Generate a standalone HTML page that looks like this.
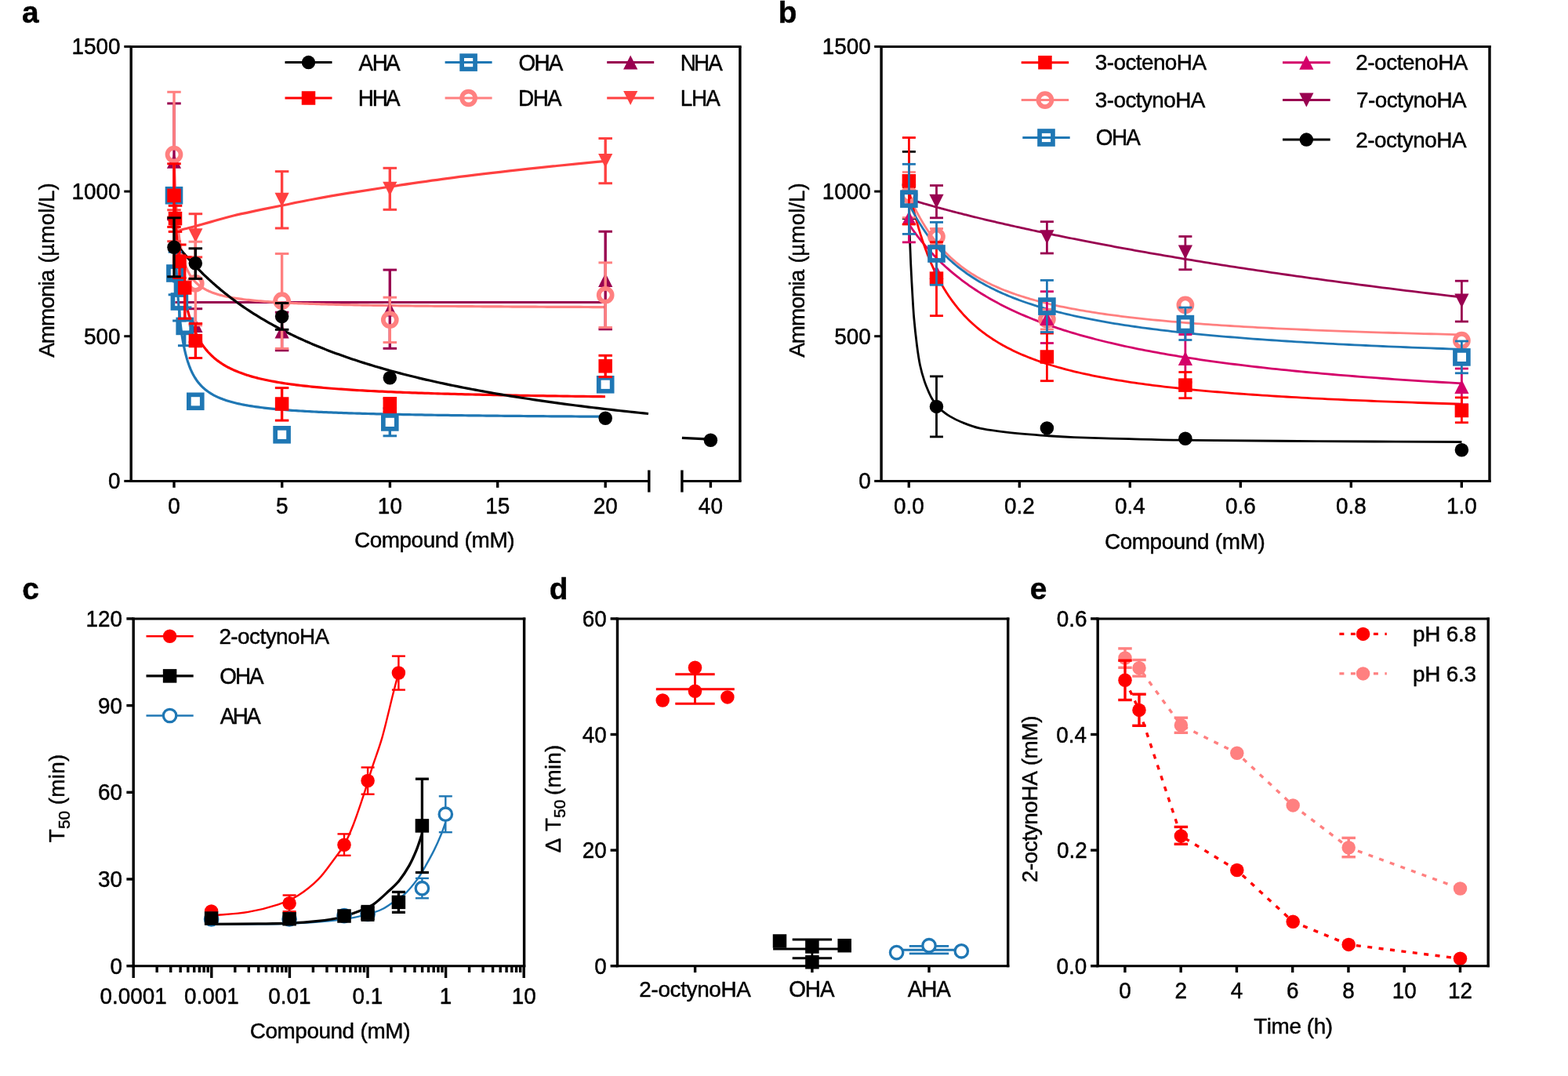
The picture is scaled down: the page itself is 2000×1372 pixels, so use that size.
<!DOCTYPE html>
<html lang="en"><head><meta charset="utf-8"><title>Figure</title>
<style>html,body{margin:0;padding:0;background:#fff;}svg{display:block;}text{font-family:'Liberation Sans', Arial, Helvetica, sans-serif;fill:#000;font-kerning:none;white-space:pre;stroke:#000;stroke-width:0.45px;stroke-linejoin:round;}</style>
</head><body>
<svg xmlns="http://www.w3.org/2000/svg" width="2000" height="1372" viewBox="0 0 2000 1372">
<rect x="0" y="0" width="2000" height="1372" fill="#ffffff"/>
<g id="panel-a">
<text x="28.06" y="28.7" font-size="38.8" font-weight="bold">a</text>
<line x1="165.5" y1="59.4" x2="945.6" y2="59.4" stroke="#000000" stroke-width="3"/>
<line x1="165.5" y1="613.4" x2="827.8" y2="613.4" stroke="#000000" stroke-width="3"/>
<line x1="869.9" y1="613.4" x2="945.6" y2="613.4" stroke="#000000" stroke-width="3"/>
<line x1="167.2" y1="59.4" x2="167.2" y2="613.4" stroke="#000000" stroke-width="3.4"/>
<line x1="943.9" y1="59.4" x2="943.9" y2="613.4" stroke="#000000" stroke-width="3.4"/>
<line x1="827.8" y1="599.5" x2="827.8" y2="627.6" stroke="#000000" stroke-width="3.4"/>
<line x1="869.9" y1="599.5" x2="869.9" y2="627.6" stroke="#000000" stroke-width="3.4"/>
<line x1="158.3" y1="59.4" x2="167.2" y2="59.4" stroke="#000000" stroke-width="3"/>
<text x="91.52" y="69.4" font-size="27.9" transform="matrix(1 0 0 1.041 0 -2.85)">1500</text>
<line x1="158.3" y1="244.07" x2="167.2" y2="244.07" stroke="#000000" stroke-width="3"/>
<text x="91.52" y="254.07" font-size="27.9" transform="matrix(1 0 0 1.041 0 -10.42)">1000</text>
<line x1="158.3" y1="428.73" x2="167.2" y2="428.73" stroke="#000000" stroke-width="3"/>
<text x="107.04" y="438.73" font-size="27.9" transform="matrix(1 0 0 1.041 0 -17.99)">500</text>
<line x1="158.3" y1="613.4" x2="167.2" y2="613.4" stroke="#000000" stroke-width="3"/>
<text x="138.07" y="623.4" font-size="27.9" transform="matrix(1 0 0 1.041 0 -25.56)">0</text>
<line x1="222" y1="613.4" x2="222" y2="621.8" stroke="#000000" stroke-width="3.4"/>
<text x="214.24" y="654.8" font-size="27.9" transform="matrix(1 0 0 1.041 0 -26.85)">0</text>
<line x1="359.7" y1="613.4" x2="359.7" y2="621.8" stroke="#000000" stroke-width="3.4"/>
<text x="351.94" y="654.8" font-size="27.9" transform="matrix(1 0 0 1.041 0 -26.85)">5</text>
<line x1="497.4" y1="613.4" x2="497.4" y2="621.8" stroke="#000000" stroke-width="3.4"/>
<text x="481.88" y="654.8" font-size="27.9" transform="matrix(1 0 0 1.041 0 -26.85)">10</text>
<line x1="634.7" y1="613.4" x2="634.7" y2="621.8" stroke="#000000" stroke-width="3.4"/>
<text x="619.18" y="654.8" font-size="27.9" transform="matrix(1 0 0 1.041 0 -26.85)">15</text>
<line x1="772.2" y1="613.4" x2="772.2" y2="621.8" stroke="#000000" stroke-width="3.4"/>
<text x="756.68" y="654.8" font-size="27.9" transform="matrix(1 0 0 1.041 0 -26.85)">20</text>
<line x1="906.4" y1="613.4" x2="906.4" y2="621.8" stroke="#000000" stroke-width="3.4"/>
<text x="890.88" y="654.8" font-size="27.9" transform="matrix(1 0 0 1.041 0 -26.85)">40</text>
<text font-size="27.9"><tspan x="451.98" y="698" letter-spacing="-0.45">Compound </tspan><tspan x="592.57" y="698" letter-spacing="-0.35">(mM)</tspan></text>
<text font-size="27.9" transform="translate(69.3 456) rotate(-90)"><tspan x="0.15" y="0" letter-spacing="-0.93">Ammonia </tspan><tspan x="120.57" y="0" letter-spacing="-0.6">(µ</tspan><tspan x="145.55" y="0" letter-spacing="-0.07">mol/L)</tspan></text>
<path d="M222 295.6 C224.17 295 230.33 293.23 235 292 C239.67 290.77 244.17 289.77 250 288.2 C255.83 286.63 262.03 284.8 270 282.6 C277.97 280.4 288.13 277.37 297.8 275 C307.47 272.63 317.7 270.57 328 268.4 C338.3 266.23 347.6 264.4 359.6 262 C371.6 259.6 385.77 256.63 400 254 C414.23 251.37 428.77 248.87 445 246.2 C461.23 243.53 476.57 241.1 497.4 238 C518.23 234.9 544.57 230.95 570 227.6 C595.43 224.25 626.67 220.58 650 217.9 C673.33 215.22 689.63 213.58 710 211.5 C730.37 209.42 761.83 206.42 772.2 205.4" fill="none" stroke="#FF4040" stroke-width="3.2" stroke-linejoin="round"/>
<path d="M223.4 385.6 L772.2 385.6" fill="none" stroke="#990050" stroke-width="3" stroke-linejoin="round"/>
<path d="M222 197.44 L222 197.57 L222.02 198.05 L222.04 198.92 L222.08 200.2 L222.13 201.91 L222.2 204.04 L222.28 206.58 L222.37 209.51 L222.49 212.79 L222.61 216.41 L222.76 220.32 L222.91 224.48 L223.09 228.86 L223.28 233.4 L223.49 238.07 L223.72 242.84 L223.97 247.66 L224.23 252.5 L224.51 257.33 L224.81 262.12 L225.13 266.86 L225.47 271.51 L225.83 276.07 L226.2 280.52 L226.6 284.85 L227.01 289.05 L227.45 293.11 L227.9 297.03 L228.37 300.82 L228.87 304.45 L229.38 307.95 L229.91 311.3 L230.47 314.52 L231.04 317.6 L231.64 320.54 L232.25 323.36 L232.89 326.06 L233.55 328.63 L234.23 331.09 L234.93 333.44 L235.65 335.68 L236.39 337.82 L237.16 339.86 L237.95 341.81 L238.75 343.68 L239.58 345.46 L240.44 347.15 L241.31 348.78 L242.21 350.33 L243.12 351.81 L244.06 353.22 L245.03 354.57 L246.01 355.87 L247.02 357.1 L248.05 358.29 L249.1 359.42 L250.18 360.51 L251.28 361.55 L252.4 362.54 L253.55 363.5 L254.72 364.41 L255.91 365.29 L257.12 366.13 L258.36 366.94 L259.62 367.72 L260.91 368.46 L262.22 369.18 L263.55 369.87 L264.9 370.53 L266.28 371.17 L267.69 371.78 L269.12 372.37 L270.57 372.94 L272.04 373.48 L273.54 374.01 L275.07 374.52 L276.62 375.01 L278.19 375.48 L279.78 375.94 L281.41 376.38 L283.05 376.8 L284.72 377.21 L286.42 377.61 L288.14 377.99 L289.88 378.36 L291.65 378.72 L293.45 379.06 L295.26 379.4 L297.11 379.72 L298.98 380.04 L300.87 380.34 L302.79 380.64 L304.74 380.92 L306.71 381.2 L308.7 381.46 L310.72 381.72 L312.77 381.98 L314.84 382.22 L316.94 382.46 L319.06 382.69 L321.21 382.91 L323.38 383.13 L325.58 383.34 L327.8 383.54 L330.06 383.74 L332.33 383.94 L334.64 384.13 L336.96 384.31 L339.32 384.49 L341.7 384.66 L344.11 384.83 L346.54 384.99 L349 385.15 L351.49 385.31 L354 385.46 L356.54 385.61 L359.1 385.75 L361.69 385.89 L364.31 386.03 L366.95 386.16 L369.63 386.29 L372.32 386.41 L375.05 386.54 L377.8 386.66 L380.58 386.78 L383.38 386.89 L386.21 387 L389.07 387.11 L391.95 387.22 L394.87 387.32 L397.8 387.42 L400.77 387.52 L403.76 387.62 L406.78 387.72 L409.83 387.81 L412.91 387.9 L416.01 387.99 L419.14 388.07 L422.29 388.16 L425.48 388.24 L428.69 388.32 L431.93 388.4 L435.19 388.48 L438.49 388.56 L441.81 388.63 L445.16 388.7 L448.53 388.77 L451.94 388.84 L455.37 388.91 L458.83 388.98 L462.32 389.05 L465.83 389.11 L469.37 389.17 L472.94 389.23 L476.54 389.29 L480.17 389.35 L483.83 389.41 L487.51 389.47 L491.22 389.52 L494.96 389.58 L498.73 389.63 L502.52 389.69 L506.34 389.74 L510.2 389.79 L514.08 389.84 L517.99 389.89 L521.92 389.93 L525.89 389.98 L529.88 390.03 L533.9 390.07 L537.95 390.12 L542.03 390.16 L546.14 390.2 L550.28 390.25 L554.44 390.29 L558.64 390.33 L562.86 390.37 L567.11 390.41 L571.39 390.45 L575.7 390.48 L580.04 390.52 L584.4 390.56 L588.8 390.59 L593.22 390.63 L597.67 390.66 L602.16 390.7 L606.67 390.73 L611.21 390.76 L615.78 390.8 L620.37 390.83 L625 390.86 L629.66 390.89 L634.34 390.92 L639.06 390.95 L643.8 390.98 L648.58 391.01 L653.38 391.04 L658.21 391.07 L663.07 391.09 L667.96 391.12 L672.88 391.15 L677.83 391.17 L682.81 391.2 L687.82 391.23 L692.86 391.25 L697.93 391.28 L703.02 391.3 L708.15 391.32 L713.31 391.35 L718.5 391.37 L723.71 391.39 L728.96 391.42 L734.23 391.44 L739.54 391.46 L744.87 391.48 L750.24 391.5 L755.63 391.53 L761.06 391.55 L766.51 391.57 L772 391.59" fill="none" stroke="#FF8080" stroke-width="3.2" stroke-linejoin="round"/>
<path d="M222 248.93 L222 249.11 L222.02 249.77 L222.04 250.96 L222.08 252.73 L222.13 255.08 L222.2 258.02 L222.28 261.53 L222.37 265.58 L222.49 270.14 L222.61 275.17 L222.76 280.61 L222.91 286.41 L223.09 292.53 L223.28 298.89 L223.49 305.46 L223.72 312.17 L223.97 318.98 L224.23 325.84 L224.51 332.7 L224.81 339.53 L225.13 346.3 L225.47 352.96 L225.83 359.51 L226.2 365.91 L226.6 372.16 L227.01 378.23 L227.45 384.13 L227.9 389.83 L228.37 395.34 L228.87 400.65 L229.38 405.76 L229.91 410.67 L230.47 415.39 L231.04 419.92 L231.64 424.27 L232.25 428.43 L232.89 432.41 L233.55 436.22 L234.23 439.87 L234.93 443.35 L235.65 446.69 L236.39 449.87 L237.16 452.92 L237.95 455.83 L238.75 458.61 L239.58 461.27 L240.44 463.81 L241.31 466.24 L242.21 468.57 L243.12 470.79 L244.06 472.91 L245.03 474.95 L246.01 476.89 L247.02 478.76 L248.05 480.54 L249.1 482.25 L250.18 483.89 L251.28 485.46 L252.4 486.96 L253.55 488.4 L254.72 489.79 L255.91 491.12 L257.12 492.39 L258.36 493.62 L259.62 494.79 L260.91 495.92 L262.22 497.01 L263.55 498.05 L264.9 499.06 L266.28 500.03 L267.69 500.96 L269.12 501.85 L270.57 502.72 L272.04 503.55 L273.54 504.35 L275.07 505.12 L276.62 505.87 L278.19 506.59 L279.78 507.28 L281.41 507.95 L283.05 508.6 L284.72 509.22 L286.42 509.83 L288.14 510.41 L289.88 510.97 L291.65 511.52 L293.45 512.05 L295.26 512.56 L297.11 513.05 L298.98 513.53 L300.87 514 L302.79 514.45 L304.74 514.88 L306.71 515.3 L308.7 515.71 L310.72 516.11 L312.77 516.5 L314.84 516.87 L316.94 517.23 L319.06 517.58 L321.21 517.92 L323.38 518.26 L325.58 518.58 L327.8 518.89 L330.06 519.2 L332.33 519.49 L334.64 519.78 L336.96 520.06 L339.32 520.33 L341.7 520.6 L344.11 520.86 L346.54 521.11 L349 521.35 L351.49 521.59 L354 521.82 L356.54 522.05 L359.1 522.27 L361.69 522.48 L364.31 522.69 L366.95 522.89 L369.63 523.09 L372.32 523.29 L375.05 523.48 L377.8 523.66 L380.58 523.84 L383.38 524.02 L386.21 524.19 L389.07 524.36 L391.95 524.52 L394.87 524.68 L397.8 524.83 L400.77 524.99 L403.76 525.14 L406.78 525.28 L409.83 525.42 L412.91 525.56 L416.01 525.7 L419.14 525.83 L422.29 525.96 L425.48 526.09 L428.69 526.21 L431.93 526.33 L435.19 526.45 L438.49 526.57 L441.81 526.68 L445.16 526.8 L448.53 526.91 L451.94 527.01 L455.37 527.12 L458.83 527.22 L462.32 527.32 L465.83 527.42 L469.37 527.52 L472.94 527.61 L476.54 527.7 L480.17 527.79 L483.83 527.88 L487.51 527.97 L491.22 528.06 L494.96 528.14 L498.73 528.22 L502.52 528.3 L506.34 528.38 L510.2 528.46 L514.08 528.54 L517.99 528.61 L521.92 528.69 L525.89 528.76 L529.88 528.83 L533.9 528.9 L537.95 528.97 L542.03 529.03 L546.14 529.1 L550.28 529.16 L554.44 529.23 L558.64 529.29 L562.86 529.35 L567.11 529.41 L571.39 529.47 L575.7 529.53 L580.04 529.59 L584.4 529.64 L588.8 529.7 L593.22 529.75 L597.67 529.81 L602.16 529.86 L606.67 529.91 L611.21 529.96 L615.78 530.01 L620.37 530.06 L625 530.11 L629.66 530.16 L634.34 530.2 L639.06 530.25 L643.8 530.29 L648.58 530.34 L653.38 530.38 L658.21 530.43 L663.07 530.47 L667.96 530.51 L672.88 530.55 L677.83 530.59 L682.81 530.63 L687.82 530.67 L692.86 530.71 L697.93 530.75 L703.02 530.78 L708.15 530.82 L713.31 530.86 L718.5 530.89 L723.71 530.93 L728.96 530.96 L734.23 531 L739.54 531.03 L744.87 531.06 L750.24 531.1 L755.63 531.13 L761.06 531.16 L766.51 531.19 L772 531.22" fill="none" stroke="#1F77B4" stroke-width="3.2" stroke-linejoin="round"/>
<path d="M222 248.93 L222 249.01 L222.02 249.27 L222.04 249.76 L222.08 250.48 L222.13 251.45 L222.2 252.68 L222.28 254.17 L222.37 255.91 L222.49 257.9 L222.61 260.14 L222.76 262.61 L222.91 265.32 L223.09 268.25 L223.28 271.37 L223.49 274.69 L223.72 278.19 L223.97 281.84 L224.23 285.63 L224.51 289.55 L224.81 293.58 L225.13 297.7 L225.47 301.9 L225.83 306.16 L226.2 310.47 L226.6 314.8 L227.01 319.15 L227.45 323.51 L227.9 327.86 L228.37 332.19 L228.87 336.5 L229.38 340.76 L229.91 344.98 L230.47 349.15 L231.04 353.25 L231.64 357.3 L232.25 361.27 L232.89 365.17 L233.55 368.99 L234.23 372.73 L234.93 376.39 L235.65 379.96 L236.39 383.45 L237.16 386.85 L237.95 390.17 L238.75 393.4 L239.58 396.54 L240.44 399.6 L241.31 402.58 L242.21 405.47 L243.12 408.28 L244.06 411 L245.03 413.65 L246.01 416.22 L247.02 418.72 L248.05 421.13 L249.1 423.48 L250.18 425.76 L251.28 427.96 L252.4 430.1 L253.55 432.18 L254.72 434.19 L255.91 436.14 L257.12 438.03 L258.36 439.86 L259.62 441.64 L260.91 443.36 L262.22 445.03 L263.55 446.64 L264.9 448.21 L266.28 449.73 L267.69 451.21 L269.12 452.64 L270.57 454.02 L272.04 455.37 L273.54 456.68 L275.07 457.94 L276.62 459.17 L278.19 460.36 L279.78 461.52 L281.41 462.64 L283.05 463.73 L284.72 464.79 L286.42 465.82 L288.14 466.82 L289.88 467.79 L291.65 468.73 L293.45 469.64 L295.26 470.53 L297.11 471.4 L298.98 472.24 L300.87 473.06 L302.79 473.85 L304.74 474.62 L306.71 475.37 L308.7 476.11 L310.72 476.82 L312.77 477.51 L314.84 478.18 L316.94 478.84 L319.06 479.48 L321.21 480.1 L323.38 480.71 L325.58 481.3 L327.8 481.87 L330.06 482.43 L332.33 482.98 L334.64 483.51 L336.96 484.03 L339.32 484.54 L341.7 485.03 L344.11 485.51 L346.54 485.98 L349 486.44 L351.49 486.89 L354 487.32 L356.54 487.75 L359.1 488.16 L361.69 488.57 L364.31 488.97 L366.95 489.35 L369.63 489.73 L372.32 490.1 L375.05 490.46 L377.8 490.82 L380.58 491.16 L383.38 491.5 L386.21 491.83 L389.07 492.15 L391.95 492.46 L394.87 492.77 L397.8 493.07 L400.77 493.37 L403.76 493.66 L406.78 493.94 L409.83 494.21 L412.91 494.48 L416.01 494.75 L419.14 495.01 L422.29 495.26 L425.48 495.51 L428.69 495.75 L431.93 495.99 L435.19 496.22 L438.49 496.45 L441.81 496.68 L445.16 496.9 L448.53 497.11 L451.94 497.32 L455.37 497.53 L458.83 497.73 L462.32 497.93 L465.83 498.12 L469.37 498.32 L472.94 498.5 L476.54 498.69 L480.17 498.87 L483.83 499.04 L487.51 499.22 L491.22 499.39 L494.96 499.56 L498.73 499.72 L502.52 499.88 L506.34 500.04 L510.2 500.19 L514.08 500.35 L517.99 500.5 L521.92 500.64 L525.89 500.79 L529.88 500.93 L533.9 501.07 L537.95 501.2 L542.03 501.34 L546.14 501.47 L550.28 501.6 L554.44 501.73 L558.64 501.85 L562.86 501.98 L567.11 502.1 L571.39 502.22 L575.7 502.33 L580.04 502.45 L584.4 502.56 L588.8 502.67 L593.22 502.78 L597.67 502.89 L602.16 503 L606.67 503.1 L611.21 503.2 L615.78 503.31 L620.37 503.4 L625 503.5 L629.66 503.6 L634.34 503.69 L639.06 503.79 L643.8 503.88 L648.58 503.97 L653.38 504.06 L658.21 504.14 L663.07 504.23 L667.96 504.32 L672.88 504.4 L677.83 504.48 L682.81 504.56 L687.82 504.64 L692.86 504.72 L697.93 504.8 L703.02 504.87 L708.15 504.95 L713.31 505.02 L718.5 505.1 L723.71 505.17 L728.96 505.24 L734.23 505.31 L739.54 505.38 L744.87 505.45 L750.24 505.51 L755.63 505.58 L761.06 505.64 L766.51 505.71 L772 505.77" fill="none" stroke="#FF0000" stroke-width="3.2" stroke-linejoin="round"/>
<path d="M222 307.56 L222 307.57 L222.02 307.59 L222.05 307.62 L222.09 307.68 L222.15 307.75 L222.22 307.85 L222.31 307.96 L222.41 308.1 L222.53 308.26 L222.67 308.44 L222.83 308.64 L223.01 308.87 L223.2 309.12 L223.41 309.39 L223.64 309.69 L223.89 310.01 L224.16 310.36 L224.45 310.73 L224.76 311.13 L225.1 311.55 L225.45 311.99 L225.82 312.46 L226.21 312.95 L226.62 313.47 L227.06 314.02 L227.51 314.59 L227.99 315.18 L228.49 315.8 L229.01 316.44 L229.55 317.1 L230.12 317.79 L230.7 318.51 L231.31 319.25 L231.95 320.01 L232.6 320.79 L233.28 321.6 L233.98 322.43 L234.7 323.28 L235.45 324.15 L236.22 325.05 L237.02 325.97 L237.83 326.91 L238.67 327.86 L239.54 328.84 L240.43 329.84 L241.34 330.86 L242.28 331.9 L243.24 332.96 L244.23 334.04 L245.24 335.13 L246.27 336.24 L247.33 337.37 L248.41 338.52 L249.52 339.68 L250.66 340.86 L251.82 342.06 L253 343.27 L254.21 344.49 L255.44 345.73 L256.7 346.98 L257.99 348.24 L259.3 349.52 L260.63 350.81 L262 352.11 L263.38 353.43 L264.8 354.75 L266.24 356.09 L267.7 357.43 L269.19 358.79 L270.71 360.15 L272.26 361.52 L273.83 362.9 L275.42 364.29 L277.05 365.68 L278.7 367.09 L280.37 368.49 L282.08 369.91 L283.81 371.33 L285.56 372.75 L287.35 374.18 L289.16 375.62 L290.99 377.06 L292.86 378.5 L294.75 379.94 L296.67 381.39 L298.62 382.84 L300.59 384.29 L302.59 385.74 L304.62 387.2 L306.68 388.65 L308.76 390.11 L310.87 391.56 L313.01 393.02 L315.18 394.47 L317.37 395.92 L319.59 397.38 L321.84 398.83 L324.12 400.28 L326.43 401.73 L328.76 403.17 L331.13 404.61 L333.52 406.05 L335.94 407.49 L338.39 408.92 L340.86 410.35 L343.37 411.78 L345.9 413.2 L348.46 414.62 L351.05 416.03 L353.67 417.44 L356.32 418.84 L359 420.24 L361.7 421.63 L364.43 423.02 L367.2 424.4 L369.99 425.78 L372.81 427.15 L375.66 428.51 L378.54 429.87 L381.45 431.22 L384.39 432.56 L387.35 433.9 L390.35 435.23 L393.38 436.56 L396.43 437.87 L399.52 439.18 L402.63 440.49 L405.78 441.78 L408.95 443.07 L412.15 444.35 L415.38 445.62 L418.65 446.89 L421.94 448.14 L425.26 449.39 L428.61 450.63 L432 451.87 L435.41 453.09 L438.85 454.31 L442.32 455.52 L445.82 456.72 L449.36 457.92 L452.92 459.1 L456.51 460.28 L460.13 461.45 L463.79 462.61 L467.47 463.76 L471.19 464.9 L474.93 466.04 L478.71 467.17 L482.51 468.29 L486.35 469.4 L490.21 470.5 L494.11 471.59 L498.04 472.68 L502 473.76 L505.99 474.82 L510.01 475.89 L514.06 476.94 L518.14 477.98 L522.25 479.02 L526.4 480.05 L530.57 481.07 L534.78 482.08 L539.02 483.08 L543.28 484.08 L547.58 485.06 L551.91 486.04 L556.28 487.01 L560.67 487.98 L565.09 488.93 L569.55 489.88 L574.04 490.82 L578.56 491.75 L583.11 492.67 L587.69 493.59 L592.3 494.5 L596.94 495.4 L601.62 496.29 L606.33 497.18 L611.07 498.05 L615.84 498.92 L620.64 499.79 L625.48 500.64 L630.34 501.49 L635.24 502.33 L640.17 503.16 L645.13 503.99 L650.13 504.81 L655.15 505.62 L660.21 506.42 L665.3 507.22 L670.42 508.01 L675.58 508.79 L680.76 509.57 L685.98 510.34 L691.23 511.1 L696.52 511.86 L701.83 512.61 L707.18 513.35 L712.56 514.09 L717.97 514.82 L723.42 515.54 L728.89 516.26 L734.4 516.97 L739.95 517.67 L745.52 518.37 L751.13 519.06 L756.77 519.75 L762.44 520.43 L768.14 521.1 L773.88 521.77 L779.65 522.43 L785.46 523.09 L791.29 523.74 L797.16 524.38 L803.06 525.02 L809 525.65 L814.97 526.28 L820.97 526.9 L827 527.52" fill="none" stroke="#000000" stroke-width="3.2" stroke-linejoin="round"/>
<path d="M869.9 558.3 L906.4 560.2" fill="none" stroke="#000000" stroke-width="3.2" stroke-linejoin="round"/>
<line x1="222" y1="267.8" x2="222" y2="307.7" stroke="#FF4040" stroke-width="3.4"/>
<line x1="213.25" y1="267.8" x2="230.75" y2="267.8" stroke="#FF4040" stroke-width="3"/>
<line x1="213.25" y1="307.7" x2="230.75" y2="307.7" stroke="#FF4040" stroke-width="3"/>
<line x1="249.4" y1="272.7" x2="249.4" y2="327.9" stroke="#FF4040" stroke-width="3.4"/>
<line x1="240.65" y1="272.7" x2="258.15" y2="272.7" stroke="#FF4040" stroke-width="3"/>
<line x1="240.65" y1="327.9" x2="258.15" y2="327.9" stroke="#FF4040" stroke-width="3"/>
<line x1="359.6" y1="218.6" x2="359.6" y2="291" stroke="#FF4040" stroke-width="3.4"/>
<line x1="350.85" y1="218.6" x2="368.35" y2="218.6" stroke="#FF4040" stroke-width="3"/>
<line x1="350.85" y1="291" x2="368.35" y2="291" stroke="#FF4040" stroke-width="3"/>
<line x1="497.3" y1="214.3" x2="497.3" y2="267.3" stroke="#FF4040" stroke-width="3.4"/>
<line x1="488.55" y1="214.3" x2="506.05" y2="214.3" stroke="#FF4040" stroke-width="3"/>
<line x1="488.55" y1="267.3" x2="506.05" y2="267.3" stroke="#FF4040" stroke-width="3"/>
<line x1="772.2" y1="176.5" x2="772.2" y2="233.7" stroke="#FF4040" stroke-width="3.4"/>
<line x1="763.45" y1="176.5" x2="780.95" y2="176.5" stroke="#FF4040" stroke-width="3"/>
<line x1="763.45" y1="233.7" x2="780.95" y2="233.7" stroke="#FF4040" stroke-width="3"/>
<path d="M222 296.75 L231.1 278.75 L212.9 278.75 Z" fill="#FF4040"/>
<path d="M249.4 309.3 L258.5 291.3 L240.3 291.3 Z" fill="#FF4040"/>
<path d="M359.6 263.8 L368.7 245.8 L350.5 245.8 Z" fill="#FF4040"/>
<path d="M497.3 249.8 L506.4 231.8 L488.2 231.8 Z" fill="#FF4040"/>
<path d="M772.2 214.1 L781.3 196.1 L763.1 196.1 Z" fill="#FF4040"/>
<line x1="222" y1="131.9" x2="222" y2="279.7" stroke="#990050" stroke-width="3.4"/>
<line x1="213.25" y1="131.9" x2="230.75" y2="131.9" stroke="#990050" stroke-width="3"/>
<line x1="213.25" y1="279.7" x2="230.75" y2="279.7" stroke="#990050" stroke-width="3"/>
<line x1="249.4" y1="393.7" x2="249.4" y2="436.3" stroke="#990050" stroke-width="3.4"/>
<line x1="240.65" y1="393.7" x2="258.15" y2="393.7" stroke="#990050" stroke-width="3"/>
<line x1="240.65" y1="436.3" x2="258.15" y2="436.3" stroke="#990050" stroke-width="3"/>
<line x1="359.6" y1="398.2" x2="359.6" y2="446.8" stroke="#990050" stroke-width="3.4"/>
<line x1="350.85" y1="398.2" x2="368.35" y2="398.2" stroke="#990050" stroke-width="3"/>
<line x1="350.85" y1="446.8" x2="368.35" y2="446.8" stroke="#990050" stroke-width="3"/>
<line x1="497.3" y1="344.1" x2="497.3" y2="444.3" stroke="#990050" stroke-width="3.4"/>
<line x1="488.55" y1="344.1" x2="506.05" y2="344.1" stroke="#990050" stroke-width="3"/>
<line x1="488.55" y1="444.3" x2="506.05" y2="444.3" stroke="#990050" stroke-width="3"/>
<line x1="772.2" y1="295.2" x2="772.2" y2="419.8" stroke="#990050" stroke-width="3.4"/>
<line x1="763.45" y1="295.2" x2="780.95" y2="295.2" stroke="#990050" stroke-width="3"/>
<line x1="763.45" y1="419.8" x2="780.95" y2="419.8" stroke="#990050" stroke-width="3"/>
<path d="M222 196.8 L231.1 214.8 L212.9 214.8 Z" fill="#990050"/>
<path d="M249.4 406 L258.5 424 L240.3 424 Z" fill="#990050"/>
<path d="M359.6 413.5 L368.7 431.5 L350.5 431.5 Z" fill="#990050"/>
<path d="M497.3 385.5 L506.4 403.5 L488.2 403.5 Z" fill="#990050"/>
<path d="M772.2 348 L781.3 366 L763.1 366 Z" fill="#990050"/>
<line x1="222" y1="117.3" x2="222" y2="189" stroke="#FF8080" stroke-width="3.4"/>
<line x1="222" y1="205" x2="222" y2="276.7" stroke="#FF8080" stroke-width="3.4"/>
<line x1="213.25" y1="117.3" x2="230.75" y2="117.3" stroke="#FF8080" stroke-width="3"/>
<line x1="213.25" y1="276.7" x2="230.75" y2="276.7" stroke="#FF8080" stroke-width="3"/>
<line x1="249.3" y1="308.2" x2="249.3" y2="353.4" stroke="#FF8080" stroke-width="3.4"/>
<line x1="249.3" y1="369.4" x2="249.3" y2="414.8" stroke="#FF8080" stroke-width="3.4"/>
<line x1="240.55" y1="308.2" x2="258.05" y2="308.2" stroke="#FF8080" stroke-width="3"/>
<line x1="240.55" y1="414.8" x2="258.05" y2="414.8" stroke="#FF8080" stroke-width="3"/>
<line x1="359.6" y1="323.5" x2="359.6" y2="375.7" stroke="#FF8080" stroke-width="3.4"/>
<line x1="359.6" y1="391.7" x2="359.6" y2="444.4" stroke="#FF8080" stroke-width="3.4"/>
<line x1="350.85" y1="323.5" x2="368.35" y2="323.5" stroke="#FF8080" stroke-width="3"/>
<line x1="350.85" y1="444.4" x2="368.35" y2="444.4" stroke="#FF8080" stroke-width="3"/>
<line x1="497.3" y1="379.2" x2="497.3" y2="399.8" stroke="#FF8080" stroke-width="3.4"/>
<line x1="497.3" y1="415.8" x2="497.3" y2="436.6" stroke="#FF8080" stroke-width="3.4"/>
<line x1="488.55" y1="379.2" x2="506.05" y2="379.2" stroke="#FF8080" stroke-width="3"/>
<line x1="488.55" y1="436.6" x2="506.05" y2="436.6" stroke="#FF8080" stroke-width="3"/>
<line x1="772.2" y1="334.9" x2="772.2" y2="368.3" stroke="#FF8080" stroke-width="3.4"/>
<line x1="772.2" y1="384.3" x2="772.2" y2="417.6" stroke="#FF8080" stroke-width="3.4"/>
<line x1="763.45" y1="334.9" x2="780.95" y2="334.9" stroke="#FF8080" stroke-width="3"/>
<line x1="763.45" y1="417.6" x2="780.95" y2="417.6" stroke="#FF8080" stroke-width="3"/>
<circle cx="222" cy="197" r="8.45" fill="none" stroke="#FF8080" stroke-width="5.8"/>
<circle cx="249.3" cy="361.4" r="8.45" fill="none" stroke="#FF8080" stroke-width="5.8"/>
<circle cx="359.6" cy="383.7" r="8.45" fill="none" stroke="#FF8080" stroke-width="5.8"/>
<circle cx="497.3" cy="407.8" r="8.45" fill="none" stroke="#FF8080" stroke-width="5.8"/>
<circle cx="772.2" cy="376.3" r="8.45" fill="none" stroke="#FF8080" stroke-width="5.8"/>
<line x1="223.4" y1="321.3" x2="223.4" y2="340.5" stroke="#1F77B4" stroke-width="3.4"/>
<line x1="223.4" y1="356.5" x2="223.4" y2="375.8" stroke="#1F77B4" stroke-width="3.4"/>
<line x1="214.65" y1="321.3" x2="232.15" y2="321.3" stroke="#1F77B4" stroke-width="3"/>
<line x1="214.65" y1="375.8" x2="232.15" y2="375.8" stroke="#1F77B4" stroke-width="3"/>
<line x1="228.9" y1="359" x2="228.9" y2="376.5" stroke="#1F77B4" stroke-width="3.4"/>
<line x1="228.9" y1="392.5" x2="228.9" y2="409" stroke="#1F77B4" stroke-width="3.4"/>
<line x1="220.15" y1="359" x2="237.65" y2="359" stroke="#1F77B4" stroke-width="3"/>
<line x1="220.15" y1="409" x2="237.65" y2="409" stroke="#1F77B4" stroke-width="3"/>
<line x1="235.7" y1="391.9" x2="235.7" y2="407.9" stroke="#1F77B4" stroke-width="3.4"/>
<line x1="235.7" y1="423.9" x2="235.7" y2="440.7" stroke="#1F77B4" stroke-width="3.4"/>
<line x1="226.95" y1="391.9" x2="244.45" y2="391.9" stroke="#1F77B4" stroke-width="3"/>
<line x1="226.95" y1="440.7" x2="244.45" y2="440.7" stroke="#1F77B4" stroke-width="3"/>
<line x1="497.3" y1="520.6" x2="497.3" y2="530.4" stroke="#1F77B4" stroke-width="3.4"/>
<line x1="497.3" y1="546.4" x2="497.3" y2="555.8" stroke="#1F77B4" stroke-width="3.4"/>
<line x1="488.55" y1="520.6" x2="506.05" y2="520.6" stroke="#1F77B4" stroke-width="3"/>
<line x1="488.55" y1="555.8" x2="506.05" y2="555.8" stroke="#1F77B4" stroke-width="3"/>
<rect x="213.55" y="240.75" width="16.9" height="16.9" fill="none" stroke="#1F77B4" stroke-width="5.7"/>
<rect x="214.95" y="340.05" width="16.9" height="16.9" fill="none" stroke="#1F77B4" stroke-width="5.7"/>
<rect x="220.45" y="376.05" width="16.9" height="16.9" fill="none" stroke="#1F77B4" stroke-width="5.7"/>
<rect x="227.25" y="407.45" width="16.9" height="16.9" fill="none" stroke="#1F77B4" stroke-width="5.7"/>
<rect x="240.85" y="503.35" width="16.9" height="16.9" fill="none" stroke="#1F77B4" stroke-width="5.7"/>
<rect x="351.15" y="545.85" width="16.9" height="16.9" fill="none" stroke="#1F77B4" stroke-width="5.7"/>
<rect x="488.85" y="529.95" width="16.9" height="16.9" fill="none" stroke="#1F77B4" stroke-width="5.7"/>
<rect x="763.75" y="481.85" width="16.9" height="16.9" fill="none" stroke="#1F77B4" stroke-width="5.7"/>
<line x1="222" y1="208.8" x2="222" y2="289.4" stroke="#FF0000" stroke-width="3.4"/>
<line x1="213.25" y1="208.8" x2="230.75" y2="208.8" stroke="#FF0000" stroke-width="3"/>
<line x1="213.25" y1="289.4" x2="230.75" y2="289.4" stroke="#FF0000" stroke-width="3"/>
<line x1="223.5" y1="262.3" x2="223.5" y2="295.4" stroke="#FF0000" stroke-width="3.4"/>
<line x1="214.75" y1="262.3" x2="232.25" y2="262.3" stroke="#FF0000" stroke-width="3"/>
<line x1="214.75" y1="295.4" x2="232.25" y2="295.4" stroke="#FF0000" stroke-width="3"/>
<line x1="228.85" y1="312" x2="228.85" y2="354.4" stroke="#FF0000" stroke-width="3.4"/>
<line x1="220.1" y1="312" x2="237.6" y2="312" stroke="#FF0000" stroke-width="3"/>
<line x1="220.1" y1="354.4" x2="237.6" y2="354.4" stroke="#FF0000" stroke-width="3"/>
<line x1="235.7" y1="327.8" x2="235.7" y2="406.2" stroke="#FF0000" stroke-width="3.4"/>
<line x1="226.95" y1="327.8" x2="244.45" y2="327.8" stroke="#FF0000" stroke-width="3"/>
<line x1="226.95" y1="406.2" x2="244.45" y2="406.2" stroke="#FF0000" stroke-width="3"/>
<line x1="249.4" y1="412.6" x2="249.4" y2="456.5" stroke="#FF0000" stroke-width="3.4"/>
<line x1="240.65" y1="412.6" x2="258.15" y2="412.6" stroke="#FF0000" stroke-width="3"/>
<line x1="240.65" y1="456.5" x2="258.15" y2="456.5" stroke="#FF0000" stroke-width="3"/>
<line x1="359.6" y1="494.6" x2="359.6" y2="536.1" stroke="#FF0000" stroke-width="3.4"/>
<line x1="350.85" y1="494.6" x2="368.35" y2="494.6" stroke="#FF0000" stroke-width="3"/>
<line x1="350.85" y1="536.1" x2="368.35" y2="536.1" stroke="#FF0000" stroke-width="3"/>
<line x1="497.3" y1="507.5" x2="497.3" y2="525.6" stroke="#FF0000" stroke-width="3.4"/>
<line x1="488.55" y1="507.5" x2="506.05" y2="507.5" stroke="#FF0000" stroke-width="3"/>
<line x1="488.55" y1="525.6" x2="506.05" y2="525.6" stroke="#FF0000" stroke-width="3"/>
<line x1="772.2" y1="453.3" x2="772.2" y2="480.6" stroke="#FF0000" stroke-width="3.4"/>
<line x1="763.45" y1="453.3" x2="780.95" y2="453.3" stroke="#FF0000" stroke-width="3"/>
<line x1="763.45" y1="480.6" x2="780.95" y2="480.6" stroke="#FF0000" stroke-width="3"/>
<rect x="213.25" y="240.55" width="17.5" height="17.5" fill="#FF0000"/>
<rect x="214.75" y="269.9" width="17.5" height="17.5" fill="#FF0000"/>
<rect x="220.1" y="324.45" width="17.5" height="17.5" fill="#FF0000"/>
<rect x="226.95" y="358.25" width="17.5" height="17.5" fill="#FF0000"/>
<rect x="240.65" y="425.75" width="17.5" height="17.5" fill="#FF0000"/>
<rect x="350.85" y="506.25" width="17.5" height="17.5" fill="#FF0000"/>
<rect x="488.55" y="507.75" width="17.5" height="17.5" fill="#FF0000"/>
<rect x="763.45" y="458.05" width="17.5" height="17.5" fill="#FF0000"/>
<line x1="222" y1="277.8" x2="222" y2="352.8" stroke="#000000" stroke-width="3.4"/>
<line x1="213.25" y1="277.8" x2="230.75" y2="277.8" stroke="#000000" stroke-width="3"/>
<line x1="213.25" y1="352.8" x2="230.75" y2="352.8" stroke="#000000" stroke-width="3"/>
<line x1="249.3" y1="316.8" x2="249.3" y2="355.4" stroke="#000000" stroke-width="3.4"/>
<line x1="240.55" y1="316.8" x2="258.05" y2="316.8" stroke="#000000" stroke-width="3"/>
<line x1="240.55" y1="355.4" x2="258.05" y2="355.4" stroke="#000000" stroke-width="3"/>
<line x1="359.6" y1="386.5" x2="359.6" y2="420.3" stroke="#000000" stroke-width="3.4"/>
<line x1="350.85" y1="386.5" x2="368.35" y2="386.5" stroke="#000000" stroke-width="3"/>
<line x1="350.85" y1="420.3" x2="368.35" y2="420.3" stroke="#000000" stroke-width="3"/>
<circle cx="222" cy="315.3" r="8.75" fill="#000000"/>
<circle cx="249.3" cy="335.7" r="8.75" fill="#000000"/>
<circle cx="359.6" cy="403.5" r="8.75" fill="#000000"/>
<circle cx="497.3" cy="481.8" r="8.75" fill="#000000"/>
<circle cx="772.2" cy="533.2" r="8.75" fill="#000000"/>
<circle cx="906.4" cy="561.2" r="8.75" fill="#000000"/>
<line x1="363.5" y1="79.6" x2="423.5" y2="79.6" stroke="#000000" stroke-width="3"/>
<circle cx="393.5" cy="79.6" r="8.75" fill="#000000"/>
<text x="457.4 474.66 491.9" y="89.8" font-size="27.9" transform="matrix(1 0 0 1.041 0 -3.68)">AHA</text>
<line x1="363.5" y1="125" x2="423.5" y2="125" stroke="#FF0000" stroke-width="3"/>
<rect x="384.75" y="116.25" width="17.5" height="17.5" fill="#FF0000"/>
<text x="456.66 474.66 491.9" y="134.8" font-size="27.9" transform="matrix(1 0 0 1.041 0 -5.53)">HHA</text>
<line x1="567.6" y1="79.6" x2="627.6" y2="79.6" stroke="#1F77B4" stroke-width="3"/>
<rect x="589.15" y="71.15" width="16.9" height="16.9" fill="none" stroke="#1F77B4" stroke-width="5.7"/>
<text x="661.48 681.51 699.75" y="89.8" font-size="27.9" transform="matrix(1 0 0 1.041 0 -3.68)">OHA</text>
<line x1="567.6" y1="125" x2="627.6" y2="125" stroke="#FF8080" stroke-width="3"/>
<circle cx="597.6" cy="125" r="8.45" fill="none" stroke="#FF8080" stroke-width="5.8"/>
<text x="661.11 679.71 698.05" y="134.8" font-size="27.9" transform="matrix(1 0 0 1.041 0 -5.53)">DHA</text>
<line x1="774.2" y1="79.6" x2="834.2" y2="79.6" stroke="#990050" stroke-width="3"/>
<path d="M804.2 70.6 L813.3 88.6 L795.1 88.6 Z" fill="#990050"/>
<text x="867.81 885.11 903.25" y="89.8" font-size="27.9" transform="matrix(1 0 0 1.041 0 -3.68)">NHA</text>
<line x1="774.2" y1="125" x2="834.2" y2="125" stroke="#FF4040" stroke-width="3"/>
<path d="M804.2 134 L813.3 116 L795.1 116 Z" fill="#FF4040"/>
<text x="867.81 881.96 900.35" y="134.8" font-size="27.9" transform="matrix(1 0 0 1.041 0 -5.53)">LHA</text>
</g>
<g id="panel-b">
<text x="992.64" y="28.7" font-size="38.8" font-weight="bold">b</text>
<line x1="1122.4" y1="59.4" x2="1901.7" y2="59.4" stroke="#000000" stroke-width="3"/>
<line x1="1122.4" y1="613.4" x2="1901.7" y2="613.4" stroke="#000000" stroke-width="3"/>
<line x1="1124.1" y1="57.9" x2="1124.1" y2="614.9" stroke="#000000" stroke-width="3.4"/>
<line x1="1900" y1="57.9" x2="1900" y2="614.9" stroke="#000000" stroke-width="3.4"/>
<line x1="1115.2" y1="59.4" x2="1124.1" y2="59.4" stroke="#000000" stroke-width="3"/>
<text x="1048.72" y="69.4" font-size="27.9" transform="matrix(1 0 0 1.041 0 -2.85)">1500</text>
<line x1="1115.2" y1="244.07" x2="1124.1" y2="244.07" stroke="#000000" stroke-width="3"/>
<text x="1048.72" y="254.07" font-size="27.9" transform="matrix(1 0 0 1.041 0 -10.42)">1000</text>
<line x1="1115.2" y1="428.73" x2="1124.1" y2="428.73" stroke="#000000" stroke-width="3"/>
<text x="1064.24" y="438.73" font-size="27.9" transform="matrix(1 0 0 1.041 0 -17.99)">500</text>
<line x1="1115.2" y1="613.4" x2="1124.1" y2="613.4" stroke="#000000" stroke-width="3"/>
<text x="1095.27" y="623.4" font-size="27.9" transform="matrix(1 0 0 1.041 0 -25.56)">0</text>
<line x1="1159.3" y1="613.4" x2="1159.3" y2="621.8" stroke="#000000" stroke-width="3.4"/>
<text x="1139.91" y="654.8" font-size="27.9" transform="matrix(1 0 0 1.041 0 -26.85)">0.0</text>
<line x1="1300.3" y1="613.4" x2="1300.3" y2="621.8" stroke="#000000" stroke-width="3.4"/>
<text x="1280.91" y="654.8" font-size="27.9" transform="matrix(1 0 0 1.041 0 -26.85)">0.2</text>
<line x1="1441.3" y1="613.4" x2="1441.3" y2="621.8" stroke="#000000" stroke-width="3.4"/>
<text x="1421.91" y="654.8" font-size="27.9" transform="matrix(1 0 0 1.041 0 -26.85)">0.4</text>
<line x1="1582.3" y1="613.4" x2="1582.3" y2="621.8" stroke="#000000" stroke-width="3.4"/>
<text x="1562.91" y="654.8" font-size="27.9" transform="matrix(1 0 0 1.041 0 -26.85)">0.6</text>
<line x1="1723.3" y1="613.4" x2="1723.3" y2="621.8" stroke="#000000" stroke-width="3.4"/>
<text x="1703.91" y="654.8" font-size="27.9" transform="matrix(1 0 0 1.041 0 -26.85)">0.8</text>
<line x1="1864.3" y1="613.4" x2="1864.3" y2="621.8" stroke="#000000" stroke-width="3.4"/>
<text x="1844.91" y="654.8" font-size="27.9" transform="matrix(1 0 0 1.041 0 -26.85)">1.0</text>
<text font-size="27.9"><tspan x="1408.98" y="699.6" letter-spacing="-0.42">Compound </tspan><tspan x="1549.77" y="699.6" letter-spacing="-0.33">(mM)</tspan></text>
<text font-size="27.9" transform="translate(1026.2 456) rotate(-90)"><tspan x="0.15" y="0" letter-spacing="-0.93">Ammonia </tspan><tspan x="120.57" y="0" letter-spacing="-0.6">(µ</tspan><tspan x="145.55" y="0" letter-spacing="-0.07">mol/L)</tspan></text>
<path d="M1159.6 253 C1159.68 259.17 1159.92 280.47 1160.1 290 C1160.28 299.53 1160.43 302.58 1160.7 310.2 C1160.97 317.82 1161.23 325.73 1161.7 335.7 C1162.17 345.67 1162.82 358.33 1163.5 370 C1164.18 381.67 1164.8 394.03 1165.8 405.7 C1166.8 417.37 1168.22 430.03 1169.5 440 C1170.78 449.97 1171.9 457.85 1173.5 465.5 C1175.1 473.15 1177.15 479.95 1179.1 485.9 C1181.05 491.85 1183.42 497.17 1185.2 501.2 C1186.98 505.23 1188.08 507.33 1189.8 510.1 C1191.52 512.87 1193.47 515.48 1195.5 517.8 C1197.53 520.12 1199.38 521.87 1202 524 C1204.62 526.13 1207.12 528.22 1211.2 530.6 C1215.28 532.98 1220.03 535.7 1226.5 538.3 C1232.97 540.9 1240.12 544.03 1250 546.2 C1259.88 548.37 1271.58 549.73 1285.8 551.3 C1300.02 552.87 1321.27 554.55 1335.3 555.6 C1349.33 556.65 1352.55 556.92 1370 557.6 C1387.45 558.28 1416.35 559.1 1440 559.7 C1463.65 560.3 1471.9 560.72 1511.9 561.2 C1551.9 561.68 1621.25 562.22 1680 562.6 C1738.75 562.98 1833.67 563.35 1864.4 563.5" fill="none" stroke="#000000" stroke-width="2.8" stroke-linejoin="round"/>
<path d="M1159.3 253.52 L1159.3 253.52 L1159.3 253.52 L1159.3 253.52 L1159.3 253.52 L1159.31 253.52 L1159.31 253.53 L1159.31 253.53 L1159.32 253.53 L1159.33 253.54 L1159.34 253.54 L1159.35 253.55 L1159.37 253.55 L1159.39 253.56 L1159.41 253.57 L1159.44 253.58 L1159.46 253.59 L1159.5 253.6 L1159.53 253.62 L1159.58 253.64 L1159.62 253.65 L1159.67 253.67 L1159.73 253.69 L1159.79 253.72 L1159.85 253.74 L1159.93 253.77 L1160 253.8 L1160.09 253.83 L1160.18 253.86 L1160.28 253.9 L1160.38 253.93 L1160.49 253.97 L1160.61 254.02 L1160.74 254.06 L1160.88 254.11 L1161.02 254.16 L1161.17 254.21 L1161.33 254.27 L1161.5 254.32 L1161.68 254.39 L1161.87 254.45 L1162.06 254.52 L1162.27 254.59 L1162.49 254.66 L1162.72 254.73 L1162.96 254.81 L1163.2 254.9 L1163.46 254.98 L1163.74 255.07 L1164.02 255.16 L1164.31 255.26 L1164.62 255.36 L1164.94 255.46 L1165.27 255.57 L1165.62 255.68 L1165.97 255.79 L1166.34 255.91 L1166.73 256.03 L1167.13 256.15 L1167.54 256.28 L1167.96 256.42 L1168.4 256.55 L1168.86 256.69 L1169.33 256.84 L1169.81 256.99 L1170.32 257.14 L1170.83 257.3 L1171.36 257.46 L1171.91 257.63 L1172.48 257.8 L1173.06 257.97 L1173.66 258.15 L1174.27 258.34 L1174.9 258.53 L1175.55 258.72 L1176.22 258.92 L1176.91 259.12 L1177.61 259.33 L1178.34 259.54 L1179.08 259.76 L1179.84 259.98 L1180.62 260.2 L1181.42 260.43 L1182.24 260.67 L1183.07 260.91 L1183.93 261.16 L1184.81 261.41 L1185.71 261.66 L1186.63 261.93 L1187.58 262.19 L1188.54 262.46 L1189.53 262.74 L1190.53 263.02 L1191.56 263.31 L1192.62 263.6 L1193.69 263.9 L1194.79 264.2 L1195.91 264.51 L1197.05 264.82 L1198.22 265.14 L1199.41 265.46 L1200.63 265.79 L1201.87 266.13 L1203.13 266.47 L1204.42 266.81 L1205.73 267.16 L1207.07 267.52 L1208.44 267.88 L1209.83 268.25 L1211.25 268.62 L1212.69 269 L1214.16 269.39 L1215.65 269.78 L1217.18 270.17 L1218.73 270.57 L1220.3 270.98 L1221.91 271.39 L1223.54 271.81 L1225.2 272.23 L1226.89 272.66 L1228.61 273.1 L1230.36 273.54 L1232.14 273.98 L1233.94 274.44 L1235.78 274.89 L1237.64 275.36 L1239.54 275.82 L1241.46 276.3 L1243.42 276.78 L1245.41 277.26 L1247.42 277.75 L1249.47 278.25 L1251.56 278.75 L1253.67 279.26 L1255.81 279.78 L1257.99 280.29 L1260.2 280.82 L1262.44 281.35 L1264.72 281.89 L1267.02 282.43 L1269.37 282.97 L1271.74 283.53 L1274.15 284.08 L1276.59 284.65 L1279.07 285.22 L1281.58 285.79 L1284.13 286.37 L1286.72 286.96 L1289.33 287.55 L1291.99 288.14 L1294.68 288.75 L1297.4 289.35 L1300.16 289.96 L1302.96 290.58 L1305.8 291.2 L1308.67 291.83 L1311.58 292.47 L1314.53 293.1 L1317.51 293.75 L1320.54 294.4 L1323.6 295.05 L1326.7 295.71 L1329.84 296.37 L1333.01 297.04 L1336.23 297.72 L1339.49 298.4 L1342.78 299.08 L1346.12 299.77 L1349.49 300.46 L1352.91 301.16 L1356.37 301.86 L1359.87 302.57 L1363.41 303.28 L1366.99 304 L1370.61 304.72 L1374.27 305.45 L1377.98 306.18 L1381.73 306.92 L1385.52 307.66 L1389.35 308.4 L1393.23 309.15 L1397.15 309.9 L1401.11 310.66 L1405.12 311.42 L1409.17 312.19 L1413.27 312.96 L1417.41 313.73 L1421.6 314.51 L1425.83 315.3 L1430.1 316.08 L1434.42 316.87 L1438.79 317.67 L1443.2 318.47 L1447.66 319.27 L1452.17 320.07 L1456.72 320.88 L1461.32 321.7 L1465.97 322.51 L1470.66 323.33 L1475.4 324.16 L1480.19 324.98 L1485.03 325.81 L1489.92 326.65 L1494.85 327.49 L1499.83 328.33 L1504.87 329.17 L1509.95 330.02 L1515.08 330.87 L1520.26 331.72 L1525.49 332.58 L1530.77 333.44 L1536.1 334.3 L1541.49 335.16 L1546.92 336.03 L1552.41 336.9 L1557.94 337.77 L1563.53 338.65 L1569.17 339.53 L1574.86 340.41 L1580.61 341.29 L1586.41 342.18 L1592.26 343.06 L1598.16 343.95 L1604.12 344.85 L1610.13 345.74 L1616.2 346.64 L1622.31 347.53 L1628.49 348.44 L1634.72 349.34 L1641 350.24 L1647.34 351.15 L1653.73 352.06 L1660.18 352.97 L1666.68 353.88 L1673.24 354.79 L1679.86 355.71 L1686.54 356.62 L1693.27 357.54 L1700.05 358.46 L1706.9 359.38 L1713.8 360.3 L1720.76 361.23 L1727.78 362.15 L1734.86 363.08 L1741.99 364 L1749.18 364.93 L1756.44 365.86 L1763.75 366.79 L1771.12 367.72 L1778.55 368.65 L1786.04 369.58 L1793.59 370.52 L1801.2 371.45 L1808.88 372.38 L1816.61 373.32 L1824.4 374.25 L1832.26 375.19 L1840.18 376.13 L1848.16 377.06 L1856.2 378 L1864.3 378.94" fill="none" stroke="#990050" stroke-width="2.8" stroke-linejoin="round"/>
<path d="M1159.3 250.16 L1159.3 250.16 L1159.3 250.16 L1159.3 250.17 L1159.3 250.17 L1159.31 250.17 L1159.31 250.18 L1159.31 250.18 L1159.32 250.2 L1159.33 250.21 L1159.34 250.23 L1159.35 250.25 L1159.37 250.28 L1159.39 250.31 L1159.41 250.35 L1159.44 250.4 L1159.46 250.45 L1159.5 250.51 L1159.53 250.58 L1159.58 250.66 L1159.62 250.74 L1159.67 250.84 L1159.73 250.95 L1159.79 251.07 L1159.85 251.2 L1159.93 251.34 L1160 251.49 L1160.09 251.66 L1160.18 251.84 L1160.28 252.04 L1160.38 252.25 L1160.49 252.48 L1160.61 252.72 L1160.74 252.98 L1160.88 253.25 L1161.02 253.55 L1161.17 253.86 L1161.33 254.19 L1161.5 254.54 L1161.68 254.9 L1161.87 255.29 L1162.06 255.7 L1162.27 256.12 L1162.49 256.57 L1162.72 257.04 L1162.96 257.53 L1163.2 258.04 L1163.46 258.58 L1163.74 259.13 L1164.02 259.71 L1164.31 260.31 L1164.62 260.93 L1164.94 261.58 L1165.27 262.25 L1165.62 262.94 L1165.97 263.65 L1166.34 264.39 L1166.73 265.15 L1167.13 265.93 L1167.54 266.74 L1167.96 267.56 L1168.4 268.41 L1168.86 269.29 L1169.33 270.18 L1169.81 271.1 L1170.32 272.04 L1170.83 273 L1171.36 273.98 L1171.91 274.98 L1172.48 276 L1173.06 277.04 L1173.66 278.1 L1174.27 279.18 L1174.9 280.28 L1175.55 281.4 L1176.22 282.53 L1176.91 283.68 L1177.61 284.85 L1178.34 286.04 L1179.08 287.23 L1179.84 288.45 L1180.62 289.68 L1181.42 290.92 L1182.24 292.17 L1183.07 293.44 L1183.93 294.71 L1184.81 296 L1185.71 297.3 L1186.63 298.61 L1187.58 299.92 L1188.54 301.25 L1189.53 302.58 L1190.53 303.92 L1191.56 305.26 L1192.62 306.61 L1193.69 307.97 L1194.79 309.33 L1195.91 310.69 L1197.05 312.05 L1198.22 313.42 L1199.41 314.79 L1200.63 316.16 L1201.87 317.53 L1203.13 318.89 L1204.42 320.26 L1205.73 321.63 L1207.07 322.99 L1208.44 324.35 L1209.83 325.71 L1211.25 327.06 L1212.69 328.41 L1214.16 329.76 L1215.65 331.1 L1217.18 332.43 L1218.73 333.76 L1220.3 335.08 L1221.91 336.39 L1223.54 337.7 L1225.2 339 L1226.89 340.29 L1228.61 341.57 L1230.36 342.84 L1232.14 344.1 L1233.94 345.36 L1235.78 346.6 L1237.64 347.84 L1239.54 349.06 L1241.46 350.28 L1243.42 351.48 L1245.41 352.68 L1247.42 353.86 L1249.47 355.03 L1251.56 356.19 L1253.67 357.34 L1255.81 358.47 L1257.99 359.6 L1260.2 360.71 L1262.44 361.81 L1264.72 362.9 L1267.02 363.98 L1269.37 365.05 L1271.74 366.1 L1274.15 367.14 L1276.59 368.17 L1279.07 369.19 L1281.58 370.19 L1284.13 371.18 L1286.72 372.17 L1289.33 373.13 L1291.99 374.09 L1294.68 375.03 L1297.4 375.97 L1300.16 376.89 L1302.96 377.79 L1305.8 378.69 L1308.67 379.57 L1311.58 380.45 L1314.53 381.31 L1317.51 382.16 L1320.54 383 L1323.6 383.82 L1326.7 384.64 L1329.84 385.44 L1333.01 386.23 L1336.23 387.01 L1339.49 387.79 L1342.78 388.54 L1346.12 389.29 L1349.49 390.03 L1352.91 390.76 L1356.37 391.48 L1359.87 392.18 L1363.41 392.88 L1366.99 393.57 L1370.61 394.24 L1374.27 394.91 L1377.98 395.57 L1381.73 396.21 L1385.52 396.85 L1389.35 397.48 L1393.23 398.1 L1397.15 398.71 L1401.11 399.31 L1405.12 399.9 L1409.17 400.49 L1413.27 401.06 L1417.41 401.63 L1421.6 402.18 L1425.83 402.73 L1430.1 403.27 L1434.42 403.81 L1438.79 404.33 L1443.2 404.85 L1447.66 405.36 L1452.17 405.86 L1456.72 406.35 L1461.32 406.84 L1465.97 407.32 L1470.66 407.79 L1475.4 408.25 L1480.19 408.71 L1485.03 409.16 L1489.92 409.61 L1494.85 410.04 L1499.83 410.47 L1504.87 410.9 L1509.95 411.32 L1515.08 411.73 L1520.26 412.13 L1525.49 412.53 L1530.77 412.93 L1536.1 413.31 L1541.49 413.7 L1546.92 414.07 L1552.41 414.44 L1557.94 414.81 L1563.53 415.17 L1569.17 415.52 L1574.86 415.87 L1580.61 416.21 L1586.41 416.55 L1592.26 416.89 L1598.16 417.21 L1604.12 417.54 L1610.13 417.86 L1616.2 418.17 L1622.31 418.48 L1628.49 418.79 L1634.72 419.09 L1641 419.38 L1647.34 419.67 L1653.73 419.96 L1660.18 420.24 L1666.68 420.52 L1673.24 420.8 L1679.86 421.07 L1686.54 421.34 L1693.27 421.6 L1700.05 421.86 L1706.9 422.11 L1713.8 422.37 L1720.76 422.61 L1727.78 422.86 L1734.86 423.1 L1741.99 423.34 L1749.18 423.57 L1756.44 423.8 L1763.75 424.03 L1771.12 424.26 L1778.55 424.48 L1786.04 424.7 L1793.59 424.91 L1801.2 425.12 L1808.88 425.33 L1816.61 425.54 L1824.4 425.74 L1832.26 425.94 L1840.18 426.14 L1848.16 426.33 L1856.2 426.53 L1864.3 426.72" fill="none" stroke="#FF8080" stroke-width="2.8" stroke-linejoin="round"/>
<path d="M1159.3 285.77 L1159.3 285.77 L1159.3 285.77 L1159.3 285.77 L1159.3 285.77 L1159.31 285.78 L1159.31 285.78 L1159.31 285.79 L1159.32 285.8 L1159.33 285.81 L1159.34 285.83 L1159.35 285.85 L1159.37 285.87 L1159.39 285.9 L1159.41 285.93 L1159.44 285.97 L1159.46 286.02 L1159.5 286.06 L1159.53 286.12 L1159.58 286.18 L1159.62 286.25 L1159.67 286.32 L1159.73 286.41 L1159.79 286.5 L1159.85 286.6 L1159.93 286.7 L1160 286.82 L1160.09 286.94 L1160.18 287.08 L1160.28 287.22 L1160.38 287.38 L1160.49 287.54 L1160.61 287.72 L1160.74 287.9 L1160.88 288.1 L1161.02 288.31 L1161.17 288.53 L1161.33 288.76 L1161.5 289.01 L1161.68 289.27 L1161.87 289.54 L1162.06 289.82 L1162.27 290.12 L1162.49 290.43 L1162.72 290.76 L1162.96 291.1 L1163.2 291.45 L1163.46 291.82 L1163.74 292.2 L1164.02 292.6 L1164.31 293.02 L1164.62 293.44 L1164.94 293.89 L1165.27 294.35 L1165.62 294.82 L1165.97 295.32 L1166.34 295.82 L1166.73 296.35 L1167.13 296.89 L1167.54 297.44 L1167.96 298.01 L1168.4 298.6 L1168.86 299.21 L1169.33 299.83 L1169.81 300.47 L1170.32 301.13 L1170.83 301.8 L1171.36 302.49 L1171.91 303.19 L1172.48 303.91 L1173.06 304.65 L1173.66 305.41 L1174.27 306.18 L1174.9 306.96 L1175.55 307.77 L1176.22 308.59 L1176.91 309.42 L1177.61 310.27 L1178.34 311.14 L1179.08 312.02 L1179.84 312.92 L1180.62 313.84 L1181.42 314.76 L1182.24 315.71 L1183.07 316.67 L1183.93 317.64 L1184.81 318.63 L1185.71 319.63 L1186.63 320.64 L1187.58 321.67 L1188.54 322.71 L1189.53 323.77 L1190.53 324.83 L1191.56 325.91 L1192.62 327.01 L1193.69 328.11 L1194.79 329.22 L1195.91 330.35 L1197.05 331.49 L1198.22 332.64 L1199.41 333.79 L1200.63 334.96 L1201.87 336.14 L1203.13 337.33 L1204.42 338.52 L1205.73 339.73 L1207.07 340.94 L1208.44 342.16 L1209.83 343.39 L1211.25 344.63 L1212.69 345.87 L1214.16 347.12 L1215.65 348.37 L1217.18 349.63 L1218.73 350.9 L1220.3 352.17 L1221.91 353.44 L1223.54 354.72 L1225.2 356.01 L1226.89 357.29 L1228.61 358.59 L1230.36 359.88 L1232.14 361.17 L1233.94 362.47 L1235.78 363.77 L1237.64 365.07 L1239.54 366.38 L1241.46 367.68 L1243.42 368.98 L1245.41 370.29 L1247.42 371.59 L1249.47 372.9 L1251.56 374.2 L1253.67 375.5 L1255.81 376.8 L1257.99 378.1 L1260.2 379.4 L1262.44 380.7 L1264.72 381.99 L1267.02 383.28 L1269.37 384.57 L1271.74 385.85 L1274.15 387.13 L1276.59 388.41 L1279.07 389.68 L1281.58 390.95 L1284.13 392.22 L1286.72 393.48 L1289.33 394.73 L1291.99 395.98 L1294.68 397.23 L1297.4 398.47 L1300.16 399.7 L1302.96 400.93 L1305.8 402.15 L1308.67 403.37 L1311.58 404.58 L1314.53 405.78 L1317.51 406.98 L1320.54 408.17 L1323.6 409.36 L1326.7 410.54 L1329.84 411.71 L1333.01 412.87 L1336.23 414.03 L1339.49 415.17 L1342.78 416.32 L1346.12 417.45 L1349.49 418.58 L1352.91 419.69 L1356.37 420.81 L1359.87 421.91 L1363.41 423 L1366.99 424.09 L1370.61 425.17 L1374.27 426.24 L1377.98 427.3 L1381.73 428.36 L1385.52 429.41 L1389.35 430.44 L1393.23 431.47 L1397.15 432.5 L1401.11 433.51 L1405.12 434.51 L1409.17 435.51 L1413.27 436.5 L1417.41 437.48 L1421.6 438.45 L1425.83 439.41 L1430.1 440.37 L1434.42 441.32 L1438.79 442.25 L1443.2 443.18 L1447.66 444.11 L1452.17 445.02 L1456.72 445.92 L1461.32 446.82 L1465.97 447.71 L1470.66 448.59 L1475.4 449.46 L1480.19 450.32 L1485.03 451.18 L1489.92 452.03 L1494.85 452.86 L1499.83 453.7 L1504.87 454.52 L1509.95 455.33 L1515.08 456.14 L1520.26 456.94 L1525.49 457.73 L1530.77 458.52 L1536.1 459.29 L1541.49 460.06 L1546.92 460.82 L1552.41 461.57 L1557.94 462.32 L1563.53 463.05 L1569.17 463.78 L1574.86 464.51 L1580.61 465.22 L1586.41 465.93 L1592.26 466.63 L1598.16 467.32 L1604.12 468.01 L1610.13 468.69 L1616.2 469.36 L1622.31 470.03 L1628.49 470.69 L1634.72 471.34 L1641 471.98 L1647.34 472.62 L1653.73 473.25 L1660.18 473.87 L1666.68 474.49 L1673.24 475.1 L1679.86 475.71 L1686.54 476.31 L1693.27 476.9 L1700.05 477.49 L1706.9 478.07 L1713.8 478.64 L1720.76 479.21 L1727.78 479.77 L1734.86 480.32 L1741.99 480.87 L1749.18 481.42 L1756.44 481.95 L1763.75 482.49 L1771.12 483.01 L1778.55 483.53 L1786.04 484.05 L1793.59 484.56 L1801.2 485.06 L1808.88 485.56 L1816.61 486.05 L1824.4 486.54 L1832.26 487.02 L1840.18 487.5 L1848.16 487.97 L1856.2 488.44 L1864.3 488.9" fill="none" stroke="#D4006A" stroke-width="2.8" stroke-linejoin="round"/>
<path d="M1159.3 242.08 L1159.3 242.08 L1159.3 242.08 L1159.3 242.09 L1159.3 242.09 L1159.31 242.1 L1159.31 242.12 L1159.31 242.14 L1159.32 242.16 L1159.33 242.2 L1159.34 242.24 L1159.35 242.3 L1159.37 242.36 L1159.39 242.44 L1159.41 242.53 L1159.44 242.64 L1159.46 242.76 L1159.5 242.9 L1159.53 243.06 L1159.58 243.23 L1159.62 243.43 L1159.67 243.65 L1159.73 243.89 L1159.79 244.15 L1159.85 244.44 L1159.93 244.76 L1160 245.1 L1160.09 245.47 L1160.18 245.87 L1160.28 246.29 L1160.38 246.75 L1160.49 247.24 L1160.61 247.76 L1160.74 248.32 L1160.88 248.9 L1161.02 249.53 L1161.17 250.19 L1161.33 250.88 L1161.5 251.61 L1161.68 252.38 L1161.87 253.19 L1162.06 254.03 L1162.27 254.92 L1162.49 255.84 L1162.72 256.8 L1162.96 257.8 L1163.2 258.85 L1163.46 259.93 L1163.74 261.05 L1164.02 262.21 L1164.31 263.42 L1164.62 264.66 L1164.94 265.94 L1165.27 267.27 L1165.62 268.63 L1165.97 270.03 L1166.34 271.47 L1166.73 272.95 L1167.13 274.47 L1167.54 276.02 L1167.96 277.62 L1168.4 279.24 L1168.86 280.91 L1169.33 282.6 L1169.81 284.33 L1170.32 286.1 L1170.83 287.9 L1171.36 289.72 L1171.91 291.58 L1172.48 293.47 L1173.06 295.38 L1173.66 297.32 L1174.27 299.29 L1174.9 301.28 L1175.55 303.29 L1176.22 305.33 L1176.91 307.38 L1177.61 309.46 L1178.34 311.56 L1179.08 313.67 L1179.84 315.8 L1180.62 317.94 L1181.42 320.09 L1182.24 322.26 L1183.07 324.44 L1183.93 326.63 L1184.81 328.82 L1185.71 331.03 L1186.63 333.23 L1187.58 335.45 L1188.54 337.66 L1189.53 339.88 L1190.53 342.1 L1191.56 344.32 L1192.62 346.54 L1193.69 348.75 L1194.79 350.97 L1195.91 353.17 L1197.05 355.37 L1198.22 357.57 L1199.41 359.76 L1200.63 361.94 L1201.87 364.11 L1203.13 366.27 L1204.42 368.42 L1205.73 370.56 L1207.07 372.68 L1208.44 374.8 L1209.83 376.9 L1211.25 378.98 L1212.69 381.05 L1214.16 383.11 L1215.65 385.15 L1217.18 387.17 L1218.73 389.17 L1220.3 391.16 L1221.91 393.13 L1223.54 395.08 L1225.2 397.02 L1226.89 398.93 L1228.61 400.82 L1230.36 402.7 L1232.14 404.56 L1233.94 406.39 L1235.78 408.21 L1237.64 410 L1239.54 411.78 L1241.46 413.53 L1243.42 415.26 L1245.41 416.98 L1247.42 418.67 L1249.47 420.34 L1251.56 421.99 L1253.67 423.62 L1255.81 425.23 L1257.99 426.82 L1260.2 428.38 L1262.44 429.93 L1264.72 431.45 L1267.02 432.96 L1269.37 434.44 L1271.74 435.9 L1274.15 437.35 L1276.59 438.77 L1279.07 440.17 L1281.58 441.55 L1284.13 442.92 L1286.72 444.26 L1289.33 445.58 L1291.99 446.89 L1294.68 448.17 L1297.4 449.44 L1300.16 450.68 L1302.96 451.91 L1305.8 453.12 L1308.67 454.31 L1311.58 455.49 L1314.53 456.64 L1317.51 457.78 L1320.54 458.9 L1323.6 460.01 L1326.7 461.09 L1329.84 462.16 L1333.01 463.22 L1336.23 464.25 L1339.49 465.28 L1342.78 466.28 L1346.12 467.27 L1349.49 468.24 L1352.91 469.2 L1356.37 470.14 L1359.87 471.07 L1363.41 471.99 L1366.99 472.89 L1370.61 473.77 L1374.27 474.64 L1377.98 475.5 L1381.73 476.35 L1385.52 477.18 L1389.35 477.99 L1393.23 478.8 L1397.15 479.59 L1401.11 480.37 L1405.12 481.14 L1409.17 481.89 L1413.27 482.63 L1417.41 483.36 L1421.6 484.08 L1425.83 484.79 L1430.1 485.49 L1434.42 486.17 L1438.79 486.85 L1443.2 487.51 L1447.66 488.17 L1452.17 488.81 L1456.72 489.44 L1461.32 490.07 L1465.97 490.68 L1470.66 491.28 L1475.4 491.88 L1480.19 492.46 L1485.03 493.04 L1489.92 493.6 L1494.85 494.16 L1499.83 494.71 L1504.87 495.25 L1509.95 495.78 L1515.08 496.31 L1520.26 496.82 L1525.49 497.33 L1530.77 497.83 L1536.1 498.32 L1541.49 498.81 L1546.92 499.28 L1552.41 499.75 L1557.94 500.22 L1563.53 500.67 L1569.17 501.12 L1574.86 501.56 L1580.61 501.99 L1586.41 502.42 L1592.26 502.84 L1598.16 503.26 L1604.12 503.67 L1610.13 504.07 L1616.2 504.47 L1622.31 504.86 L1628.49 505.24 L1634.72 505.62 L1641 505.99 L1647.34 506.36 L1653.73 506.72 L1660.18 507.08 L1666.68 507.43 L1673.24 507.78 L1679.86 508.12 L1686.54 508.46 L1693.27 508.79 L1700.05 509.11 L1706.9 509.44 L1713.8 509.75 L1720.76 510.07 L1727.78 510.37 L1734.86 510.68 L1741.99 510.97 L1749.18 511.27 L1756.44 511.56 L1763.75 511.85 L1771.12 512.13 L1778.55 512.41 L1786.04 512.68 L1793.59 512.95 L1801.2 513.22 L1808.88 513.48 L1816.61 513.74 L1824.4 513.99 L1832.26 514.24 L1840.18 514.49 L1848.16 514.74 L1856.2 514.98 L1864.3 515.21" fill="none" stroke="#FF0000" stroke-width="2.8" stroke-linejoin="round"/>
<path d="M1159.3 259.61 L1159.3 259.61 L1159.3 259.61 L1159.3 259.61 L1159.3 259.61 L1159.31 259.62 L1159.31 259.62 L1159.31 259.64 L1159.32 259.65 L1159.33 259.67 L1159.34 259.69 L1159.35 259.72 L1159.37 259.75 L1159.39 259.79 L1159.41 259.84 L1159.44 259.89 L1159.46 259.95 L1159.5 260.02 L1159.53 260.1 L1159.58 260.18 L1159.62 260.28 L1159.67 260.39 L1159.73 260.5 L1159.79 260.63 L1159.85 260.77 L1159.93 260.92 L1160 261.08 L1160.09 261.25 L1160.18 261.44 L1160.28 261.64 L1160.38 261.86 L1160.49 262.09 L1160.61 262.33 L1160.74 262.59 L1160.88 262.86 L1161.02 263.15 L1161.17 263.46 L1161.33 263.78 L1161.5 264.12 L1161.68 264.48 L1161.87 264.85 L1162.06 265.24 L1162.27 265.65 L1162.49 266.08 L1162.72 266.52 L1162.96 266.99 L1163.2 267.47 L1163.46 267.97 L1163.74 268.5 L1164.02 269.04 L1164.31 269.6 L1164.62 270.18 L1164.94 270.78 L1165.27 271.39 L1165.62 272.03 L1165.97 272.69 L1166.34 273.37 L1166.73 274.07 L1167.13 274.78 L1167.54 275.52 L1167.96 276.28 L1168.4 277.05 L1168.86 277.85 L1169.33 278.66 L1169.81 279.49 L1170.32 280.35 L1170.83 281.22 L1171.36 282.11 L1171.91 283.01 L1172.48 283.94 L1173.06 284.88 L1173.66 285.84 L1174.27 286.82 L1174.9 287.82 L1175.55 288.83 L1176.22 289.85 L1176.91 290.9 L1177.61 291.96 L1178.34 293.03 L1179.08 294.12 L1179.84 295.22 L1180.62 296.33 L1181.42 297.46 L1182.24 298.61 L1183.07 299.76 L1183.93 300.93 L1184.81 302.1 L1185.71 303.29 L1186.63 304.49 L1187.58 305.7 L1188.54 306.92 L1189.53 308.15 L1190.53 309.38 L1191.56 310.63 L1192.62 311.88 L1193.69 313.14 L1194.79 314.4 L1195.91 315.67 L1197.05 316.95 L1198.22 318.23 L1199.41 319.52 L1200.63 320.81 L1201.87 322.1 L1203.13 323.4 L1204.42 324.7 L1205.73 326 L1207.07 327.3 L1208.44 328.61 L1209.83 329.91 L1211.25 331.21 L1212.69 332.52 L1214.16 333.82 L1215.65 335.12 L1217.18 336.43 L1218.73 337.72 L1220.3 339.02 L1221.91 340.32 L1223.54 341.61 L1225.2 342.89 L1226.89 344.18 L1228.61 345.46 L1230.36 346.73 L1232.14 348 L1233.94 349.27 L1235.78 350.53 L1237.64 351.78 L1239.54 353.03 L1241.46 354.27 L1243.42 355.51 L1245.41 356.74 L1247.42 357.96 L1249.47 359.17 L1251.56 360.38 L1253.67 361.58 L1255.81 362.77 L1257.99 363.95 L1260.2 365.13 L1262.44 366.3 L1264.72 367.45 L1267.02 368.6 L1269.37 369.74 L1271.74 370.88 L1274.15 372 L1276.59 373.11 L1279.07 374.22 L1281.58 375.31 L1284.13 376.4 L1286.72 377.47 L1289.33 378.54 L1291.99 379.6 L1294.68 380.64 L1297.4 381.68 L1300.16 382.71 L1302.96 383.73 L1305.8 384.73 L1308.67 385.73 L1311.58 386.72 L1314.53 387.7 L1317.51 388.66 L1320.54 389.62 L1323.6 390.57 L1326.7 391.51 L1329.84 392.43 L1333.01 393.35 L1336.23 394.26 L1339.49 395.16 L1342.78 396.05 L1346.12 396.93 L1349.49 397.8 L1352.91 398.65 L1356.37 399.5 L1359.87 400.34 L1363.41 401.17 L1366.99 401.99 L1370.61 402.81 L1374.27 403.61 L1377.98 404.4 L1381.73 405.18 L1385.52 405.96 L1389.35 406.72 L1393.23 407.48 L1397.15 408.22 L1401.11 408.96 L1405.12 409.69 L1409.17 410.41 L1413.27 411.12 L1417.41 411.83 L1421.6 412.52 L1425.83 413.2 L1430.1 413.88 L1434.42 414.55 L1438.79 415.21 L1443.2 415.86 L1447.66 416.51 L1452.17 417.14 L1456.72 417.77 L1461.32 418.39 L1465.97 419.01 L1470.66 419.61 L1475.4 420.21 L1480.19 420.8 L1485.03 421.38 L1489.92 421.96 L1494.85 422.52 L1499.83 423.08 L1504.87 423.64 L1509.95 424.18 L1515.08 424.72 L1520.26 425.26 L1525.49 425.78 L1530.77 426.3 L1536.1 426.81 L1541.49 427.32 L1546.92 427.82 L1552.41 428.31 L1557.94 428.8 L1563.53 429.28 L1569.17 429.76 L1574.86 430.22 L1580.61 430.69 L1586.41 431.14 L1592.26 431.59 L1598.16 432.04 L1604.12 432.48 L1610.13 432.91 L1616.2 433.34 L1622.31 433.76 L1628.49 434.18 L1634.72 434.59 L1641 435 L1647.34 435.4 L1653.73 435.8 L1660.18 436.19 L1666.68 436.58 L1673.24 436.96 L1679.86 437.34 L1686.54 437.71 L1693.27 438.07 L1700.05 438.44 L1706.9 438.8 L1713.8 439.15 L1720.76 439.5 L1727.78 439.84 L1734.86 440.18 L1741.99 440.52 L1749.18 440.85 L1756.44 441.18 L1763.75 441.5 L1771.12 441.82 L1778.55 442.14 L1786.04 442.45 L1793.59 442.76 L1801.2 443.06 L1808.88 443.36 L1816.61 443.65 L1824.4 443.95 L1832.26 444.24 L1840.18 444.52 L1848.16 444.8 L1856.2 445.08 L1864.3 445.36" fill="none" stroke="#1F77B4" stroke-width="2.8" stroke-linejoin="round"/>
<line x1="1159.4" y1="193.4" x2="1159.4" y2="278.6" stroke="#000000" stroke-width="2.8"/>
<line x1="1150.9" y1="193.4" x2="1167.9" y2="193.4" stroke="#000000" stroke-width="2.8"/>
<line x1="1150.9" y1="278.6" x2="1167.9" y2="278.6" stroke="#000000" stroke-width="2.8"/>
<line x1="1194.5" y1="479.9" x2="1194.5" y2="556.9" stroke="#000000" stroke-width="2.8"/>
<line x1="1186" y1="479.9" x2="1203" y2="479.9" stroke="#000000" stroke-width="2.8"/>
<line x1="1186" y1="556.9" x2="1203" y2="556.9" stroke="#000000" stroke-width="2.8"/>
<circle cx="1159.4" cy="236" r="8.75" fill="#000000"/>
<circle cx="1194.5" cy="518.4" r="8.75" fill="#000000"/>
<circle cx="1335.4" cy="545.9" r="8.75" fill="#000000"/>
<circle cx="1511.9" cy="559.2" r="8.75" fill="#000000"/>
<circle cx="1864.4" cy="573.7" r="8.75" fill="#000000"/>
<line x1="1194.5" y1="236.5" x2="1194.5" y2="277.8" stroke="#990050" stroke-width="2.8"/>
<line x1="1186" y1="236.5" x2="1203" y2="236.5" stroke="#990050" stroke-width="2.8"/>
<line x1="1186" y1="277.8" x2="1203" y2="277.8" stroke="#990050" stroke-width="2.8"/>
<line x1="1335.4" y1="282.7" x2="1335.4" y2="323" stroke="#990050" stroke-width="2.8"/>
<line x1="1326.9" y1="282.7" x2="1343.9" y2="282.7" stroke="#990050" stroke-width="2.8"/>
<line x1="1326.9" y1="323" x2="1343.9" y2="323" stroke="#990050" stroke-width="2.8"/>
<line x1="1511.9" y1="301.5" x2="1511.9" y2="343.75" stroke="#990050" stroke-width="2.8"/>
<line x1="1503.4" y1="301.5" x2="1520.4" y2="301.5" stroke="#990050" stroke-width="2.8"/>
<line x1="1503.4" y1="343.75" x2="1520.4" y2="343.75" stroke="#990050" stroke-width="2.8"/>
<line x1="1864.4" y1="358.2" x2="1864.4" y2="410" stroke="#990050" stroke-width="2.8"/>
<line x1="1855.9" y1="358.2" x2="1872.9" y2="358.2" stroke="#990050" stroke-width="2.8"/>
<line x1="1855.9" y1="410" x2="1872.9" y2="410" stroke="#990050" stroke-width="2.8"/>
<path d="M1194.5 265.8 L1203.6 247.8 L1185.4 247.8 Z" fill="#990050"/>
<path d="M1335.4 311.3 L1344.5 293.3 L1326.3 293.3 Z" fill="#990050"/>
<path d="M1511.9 330.5 L1521 312.5 L1502.8 312.5 Z" fill="#990050"/>
<path d="M1864.4 392.6 L1873.5 374.6 L1855.3 374.6 Z" fill="#990050"/>
<line x1="1159.4" y1="219.5" x2="1159.4" y2="240.5" stroke="#FF8080" stroke-width="2.8"/>
<line x1="1159.4" y1="256.5" x2="1159.4" y2="277.5" stroke="#FF8080" stroke-width="2.8"/>
<line x1="1150.9" y1="219.5" x2="1167.9" y2="219.5" stroke="#FF8080" stroke-width="2.8"/>
<line x1="1150.9" y1="277.5" x2="1167.9" y2="277.5" stroke="#FF8080" stroke-width="2.8"/>
<line x1="1194.5" y1="291.5" x2="1194.5" y2="293.8" stroke="#FF8080" stroke-width="2.8"/>
<line x1="1194.5" y1="309.8" x2="1194.5" y2="312" stroke="#FF8080" stroke-width="2.8"/>
<line x1="1186" y1="291.5" x2="1203" y2="291.5" stroke="#FF8080" stroke-width="2.8"/>
<line x1="1186" y1="312" x2="1203" y2="312" stroke="#FF8080" stroke-width="2.8"/>
<line x1="1335.4" y1="394.3" x2="1335.4" y2="399.1" stroke="#FF8080" stroke-width="2.8"/>
<line x1="1335.4" y1="415.1" x2="1335.4" y2="419.9" stroke="#FF8080" stroke-width="2.8"/>
<line x1="1326.9" y1="394.3" x2="1343.9" y2="394.3" stroke="#FF8080" stroke-width="2.8"/>
<line x1="1326.9" y1="419.9" x2="1343.9" y2="419.9" stroke="#FF8080" stroke-width="2.8"/>
<circle cx="1159.4" cy="248.5" r="8.45" fill="none" stroke="#FF8080" stroke-width="5.8"/>
<circle cx="1194.5" cy="301.8" r="8.45" fill="none" stroke="#FF8080" stroke-width="5.8"/>
<circle cx="1335.4" cy="407.1" r="8.45" fill="none" stroke="#FF8080" stroke-width="5.8"/>
<circle cx="1511.9" cy="388.9" r="8.45" fill="none" stroke="#FF8080" stroke-width="5.8"/>
<circle cx="1864.4" cy="434.2" r="8.45" fill="none" stroke="#FF8080" stroke-width="5.8"/>
<line x1="1159.4" y1="246.7" x2="1159.4" y2="308.9" stroke="#D4006A" stroke-width="2.8"/>
<line x1="1150.9" y1="246.7" x2="1167.9" y2="246.7" stroke="#D4006A" stroke-width="2.8"/>
<line x1="1150.9" y1="308.9" x2="1167.9" y2="308.9" stroke="#D4006A" stroke-width="2.8"/>
<line x1="1335.4" y1="371.7" x2="1335.4" y2="437.5" stroke="#D4006A" stroke-width="2.8"/>
<line x1="1326.9" y1="371.7" x2="1343.9" y2="371.7" stroke="#D4006A" stroke-width="2.8"/>
<line x1="1326.9" y1="437.5" x2="1343.9" y2="437.5" stroke="#D4006A" stroke-width="2.8"/>
<line x1="1511.9" y1="426.5" x2="1511.9" y2="487.5" stroke="#D4006A" stroke-width="2.8"/>
<line x1="1503.4" y1="426.5" x2="1520.4" y2="426.5" stroke="#D4006A" stroke-width="2.8"/>
<line x1="1503.4" y1="487.5" x2="1520.4" y2="487.5" stroke="#D4006A" stroke-width="2.8"/>
<line x1="1864.4" y1="470" x2="1864.4" y2="515.8" stroke="#D4006A" stroke-width="2.8"/>
<line x1="1855.9" y1="470" x2="1872.9" y2="470" stroke="#D4006A" stroke-width="2.8"/>
<line x1="1855.9" y1="515.8" x2="1872.9" y2="515.8" stroke="#D4006A" stroke-width="2.8"/>
<path d="M1159.4 268.8 L1168.5 286.8 L1150.3 286.8 Z" fill="#D4006A"/>
<path d="M1194.5 337.8 L1203.6 355.8 L1185.4 355.8 Z" fill="#D4006A"/>
<path d="M1335.4 397 L1344.5 415 L1326.3 415 Z" fill="#D4006A"/>
<path d="M1511.9 448 L1521 466 L1502.8 466 Z" fill="#D4006A"/>
<path d="M1864.4 483.9 L1873.5 501.9 L1855.3 501.9 Z" fill="#D4006A"/>
<line x1="1159.4" y1="175.5" x2="1159.4" y2="286" stroke="#FF0000" stroke-width="2.8"/>
<line x1="1150.9" y1="175.5" x2="1167.9" y2="175.5" stroke="#FF0000" stroke-width="2.8"/>
<line x1="1150.9" y1="286" x2="1167.9" y2="286" stroke="#FF0000" stroke-width="2.8"/>
<line x1="1194.5" y1="308.7" x2="1194.5" y2="402.65" stroke="#FF0000" stroke-width="2.8"/>
<line x1="1186" y1="308.7" x2="1203" y2="308.7" stroke="#FF0000" stroke-width="2.8"/>
<line x1="1186" y1="402.65" x2="1203" y2="402.65" stroke="#FF0000" stroke-width="2.8"/>
<line x1="1335.4" y1="425" x2="1335.4" y2="485.7" stroke="#FF0000" stroke-width="2.8"/>
<line x1="1326.9" y1="425" x2="1343.9" y2="425" stroke="#FF0000" stroke-width="2.8"/>
<line x1="1326.9" y1="485.7" x2="1343.9" y2="485.7" stroke="#FF0000" stroke-width="2.8"/>
<line x1="1511.9" y1="474.5" x2="1511.9" y2="507.7" stroke="#FF0000" stroke-width="2.8"/>
<line x1="1503.4" y1="474.5" x2="1520.4" y2="474.5" stroke="#FF0000" stroke-width="2.8"/>
<line x1="1503.4" y1="507.7" x2="1520.4" y2="507.7" stroke="#FF0000" stroke-width="2.8"/>
<line x1="1864.4" y1="506.9" x2="1864.4" y2="538.8" stroke="#FF0000" stroke-width="2.8"/>
<line x1="1855.9" y1="506.9" x2="1872.9" y2="506.9" stroke="#FF0000" stroke-width="2.8"/>
<line x1="1855.9" y1="538.8" x2="1872.9" y2="538.8" stroke="#FF0000" stroke-width="2.8"/>
<rect x="1150.65" y="222.05" width="17.5" height="17.5" fill="#FF0000"/>
<rect x="1185.75" y="346.35" width="17.5" height="17.5" fill="#FF0000"/>
<rect x="1326.65" y="446.25" width="17.5" height="17.5" fill="#FF0000"/>
<rect x="1503.15" y="482.35" width="17.5" height="17.5" fill="#FF0000"/>
<rect x="1855.65" y="514.75" width="17.5" height="17.5" fill="#FF0000"/>
<line x1="1159.4" y1="209.3" x2="1159.4" y2="245.65" stroke="#1F77B4" stroke-width="2.8"/>
<line x1="1159.4" y1="261.65" x2="1159.4" y2="298.4" stroke="#1F77B4" stroke-width="2.8"/>
<line x1="1150.9" y1="209.3" x2="1167.9" y2="209.3" stroke="#1F77B4" stroke-width="2.8"/>
<line x1="1150.9" y1="298.4" x2="1167.9" y2="298.4" stroke="#1F77B4" stroke-width="2.8"/>
<line x1="1194.5" y1="283.4" x2="1194.5" y2="315.5" stroke="#1F77B4" stroke-width="2.8"/>
<line x1="1194.5" y1="331.5" x2="1194.5" y2="363.3" stroke="#1F77B4" stroke-width="2.8"/>
<line x1="1186" y1="283.4" x2="1203" y2="283.4" stroke="#1F77B4" stroke-width="2.8"/>
<line x1="1186" y1="363.3" x2="1203" y2="363.3" stroke="#1F77B4" stroke-width="2.8"/>
<line x1="1335.4" y1="357.4" x2="1335.4" y2="382.6" stroke="#1F77B4" stroke-width="2.8"/>
<line x1="1335.4" y1="398.6" x2="1335.4" y2="423.5" stroke="#1F77B4" stroke-width="2.8"/>
<line x1="1326.9" y1="357.4" x2="1343.9" y2="357.4" stroke="#1F77B4" stroke-width="2.8"/>
<line x1="1326.9" y1="423.5" x2="1343.9" y2="423.5" stroke="#1F77B4" stroke-width="2.8"/>
<line x1="1511.9" y1="392.1" x2="1511.9" y2="405.1" stroke="#1F77B4" stroke-width="2.8"/>
<line x1="1511.9" y1="421.1" x2="1511.9" y2="433.5" stroke="#1F77B4" stroke-width="2.8"/>
<line x1="1503.4" y1="392.1" x2="1520.4" y2="392.1" stroke="#1F77B4" stroke-width="2.8"/>
<line x1="1503.4" y1="433.5" x2="1520.4" y2="433.5" stroke="#1F77B4" stroke-width="2.8"/>
<line x1="1864.4" y1="435" x2="1864.4" y2="447.4" stroke="#1F77B4" stroke-width="2.8"/>
<line x1="1864.4" y1="463.4" x2="1864.4" y2="475.8" stroke="#1F77B4" stroke-width="2.8"/>
<line x1="1855.9" y1="435" x2="1872.9" y2="435" stroke="#1F77B4" stroke-width="2.8"/>
<line x1="1855.9" y1="475.8" x2="1872.9" y2="475.8" stroke="#1F77B4" stroke-width="2.8"/>
<rect x="1150.95" y="245.2" width="16.9" height="16.9" fill="none" stroke="#1F77B4" stroke-width="5.7"/>
<rect x="1186.05" y="315.05" width="16.9" height="16.9" fill="none" stroke="#1F77B4" stroke-width="5.7"/>
<rect x="1326.95" y="382.15" width="16.9" height="16.9" fill="none" stroke="#1F77B4" stroke-width="5.7"/>
<rect x="1503.45" y="404.65" width="16.9" height="16.9" fill="none" stroke="#1F77B4" stroke-width="5.7"/>
<rect x="1855.95" y="446.95" width="16.9" height="16.9" fill="none" stroke="#1F77B4" stroke-width="5.7"/>
<line x1="1302.7" y1="79.7" x2="1363.2" y2="79.7" stroke="#FF0000" stroke-width="3"/>
<rect x="1324.2" y="70.95" width="17.5" height="17.5" fill="#FF0000"/>
<text x="1396.84" y="89.4" font-size="27.9" letter-spacing="-0.57">3-octenoHA</text>
<line x1="1302.7" y1="127.6" x2="1363.2" y2="127.6" stroke="#FF8080" stroke-width="3"/>
<circle cx="1332.95" cy="127.6" r="8.45" fill="none" stroke="#FF8080" stroke-width="5.8"/>
<text x="1396.84" y="137" font-size="27.9" letter-spacing="-0.58">3-octynoHA</text>
<line x1="1304.3" y1="175.5" x2="1364.7" y2="175.5" stroke="#1F77B4" stroke-width="3"/>
<rect x="1326.05" y="167.05" width="16.9" height="16.9" fill="none" stroke="#1F77B4" stroke-width="5.7"/>
<text x="1397.88 1417.91 1436.15" y="185.2" font-size="27.9" transform="matrix(1 0 0 1.041 0 -7.59)">OHA</text>
<line x1="1636" y1="79.7" x2="1696.7" y2="79.7" stroke="#D4006A" stroke-width="3"/>
<path d="M1666.35 70.7 L1675.45 88.7 L1657.25 88.7 Z" fill="#D4006A"/>
<text x="1729.2" y="89.4" font-size="27.9" letter-spacing="-0.45">2-octenoHA</text>
<line x1="1636" y1="127.6" x2="1696.7" y2="127.6" stroke="#990050" stroke-width="3"/>
<path d="M1666.35 136.6 L1675.45 118.6 L1657.25 118.6 Z" fill="#990050"/>
<text x="1730.07" y="137" font-size="27.9" letter-spacing="-0.58">7-octynoHA</text>
<line x1="1636" y1="178.1" x2="1696.7" y2="178.1" stroke="#000000" stroke-width="3"/>
<circle cx="1666.35" cy="178.1" r="8.75" fill="#000000"/>
<text x="1729.2" y="188.3" font-size="27.9" letter-spacing="-0.48">2-octynoHA</text>
</g>
<g id="panel-c">
<text x="28.18" y="764.2" font-size="38.8" font-weight="bold">c</text>
<path d="M269.6 1166.8 C271.05 1166.78 270.48 1167.35 278.3 1166.7 C286.12 1166.05 303.75 1165.13 316.5 1162.9 C329.25 1160.67 344.17 1156.82 354.8 1153.3 C365.43 1149.78 371.8 1147.12 380.3 1141.8 C388.8 1136.48 398.35 1128.83 405.8 1121.4 C413.25 1113.97 419.47 1104.57 425 1097.2 C430.53 1089.83 434.75 1084.73 439 1077.2 C443.25 1069.67 446.23 1062.97 450.5 1052 C454.77 1041.03 460.55 1023.68 464.6 1011.4 C468.65 999.12 470.97 990.22 474.8 978.3 C478.63 966.38 483.13 955.65 487.6 939.9 C492.07 924.15 498.13 897.45 501.6 883.8 C505.07 870.15 507.27 862.3 508.4 858" fill="none" stroke="#FF0000" stroke-width="2.4" stroke-linejoin="round"/>
<path d="M269.6 1178.6 C279.55 1178.55 312.97 1178.43 329.3 1178.3 C345.63 1178.17 352.48 1178.45 367.6 1177.8 C382.72 1177.15 405.95 1175.72 420 1174.4 C434.05 1173.08 441.27 1172.13 451.9 1169.9 C462.53 1167.67 475.93 1163.98 483.8 1161 C491.67 1158.02 493.58 1155.62 499.1 1152 C504.62 1148.38 511.38 1144.4 516.9 1139.3 C522.42 1134.2 527.95 1127.15 532.2 1121.4 C536.45 1115.65 538.78 1111.1 542.4 1104.8 C546.02 1098.5 550.48 1090.48 553.9 1083.6 C557.32 1076.72 560.5 1069.37 562.9 1063.5 C565.3 1057.63 567.4 1050.92 568.3 1048.4" fill="none" stroke="#1F77B4" stroke-width="2.4" stroke-linejoin="round"/>
<path d="M269.6 1178.3 C279.55 1178.23 312.97 1178.08 329.3 1177.9 C345.63 1177.72 354.85 1177.78 367.6 1177.2 C380.35 1176.62 395.18 1175.52 405.8 1174.4 C416.42 1173.28 422.8 1172.53 431.3 1170.5 C439.8 1168.47 449.35 1165.07 456.8 1162.2 C464.25 1159.33 469.38 1157.75 476 1153.3 C482.62 1148.85 490.95 1140.6 496.5 1135.5 C502.05 1130.4 505.05 1128.02 509.3 1122.7 C513.55 1117.38 518.38 1109.98 522 1103.6 C525.62 1097.22 528.45 1090.6 531 1084.4 C533.55 1078.2 536.07 1070.05 537.3 1066.4 C538.53 1062.75 538.22 1063.15 538.4 1062.5" fill="none" stroke="#000000" stroke-width="3.3" stroke-linejoin="round"/>
<line x1="369.1" y1="1141.5" x2="369.1" y2="1162.2" stroke="#FF0000" stroke-width="2.4"/>
<line x1="360.6" y1="1141.5" x2="377.6" y2="1141.5" stroke="#FF0000" stroke-width="2.4"/>
<line x1="360.6" y1="1162.2" x2="377.6" y2="1162.2" stroke="#FF0000" stroke-width="2.4"/>
<line x1="439" y1="1063.4" x2="439" y2="1090.8" stroke="#FF0000" stroke-width="2.4"/>
<line x1="430.5" y1="1063.4" x2="447.5" y2="1063.4" stroke="#FF0000" stroke-width="2.4"/>
<line x1="430.5" y1="1090.8" x2="447.5" y2="1090.8" stroke="#FF0000" stroke-width="2.4"/>
<line x1="469.1" y1="978.5" x2="469.1" y2="1012.7" stroke="#FF0000" stroke-width="2.4"/>
<line x1="460.6" y1="978.5" x2="477.6" y2="978.5" stroke="#FF0000" stroke-width="2.4"/>
<line x1="460.6" y1="1012.7" x2="477.6" y2="1012.7" stroke="#FF0000" stroke-width="2.4"/>
<line x1="508.4" y1="836.6" x2="508.4" y2="879.6" stroke="#FF0000" stroke-width="2.4"/>
<line x1="499.9" y1="836.6" x2="516.9" y2="836.6" stroke="#FF0000" stroke-width="2.4"/>
<line x1="499.9" y1="879.6" x2="516.9" y2="879.6" stroke="#FF0000" stroke-width="2.4"/>
<circle cx="269.6" cy="1162" r="8.75" fill="#FF0000"/>
<circle cx="369.1" cy="1151.8" r="8.75" fill="#FF0000"/>
<circle cx="439" cy="1077.2" r="8.75" fill="#FF0000"/>
<circle cx="469.1" cy="995.5" r="8.75" fill="#FF0000"/>
<circle cx="508.4" cy="858" r="8.75" fill="#FF0000"/>
<line x1="538.4" y1="1119.9" x2="538.4" y2="1124.2" stroke="#1F77B4" stroke-width="2.4"/>
<line x1="538.4" y1="1141.2" x2="538.4" y2="1145.3" stroke="#1F77B4" stroke-width="2.4"/>
<line x1="529.9" y1="1119.9" x2="546.9" y2="1119.9" stroke="#1F77B4" stroke-width="2.4"/>
<line x1="529.9" y1="1145.3" x2="546.9" y2="1145.3" stroke="#1F77B4" stroke-width="2.4"/>
<line x1="568.3" y1="1015.3" x2="568.3" y2="1029.7" stroke="#1F77B4" stroke-width="2.4"/>
<line x1="568.3" y1="1046.7" x2="568.3" y2="1061.2" stroke="#1F77B4" stroke-width="2.4"/>
<line x1="559.8" y1="1015.3" x2="576.8" y2="1015.3" stroke="#1F77B4" stroke-width="2.4"/>
<line x1="559.8" y1="1061.2" x2="576.8" y2="1061.2" stroke="#1F77B4" stroke-width="2.4"/>
<circle cx="269.6" cy="1172" r="8.2" fill="none" stroke="#1F77B4" stroke-width="3.3"/>
<circle cx="369.1" cy="1172" r="8.2" fill="none" stroke="#1F77B4" stroke-width="3.3"/>
<circle cx="439" cy="1167.6" r="8.2" fill="none" stroke="#1F77B4" stroke-width="3.3"/>
<circle cx="469.1" cy="1165.5" r="8.2" fill="none" stroke="#1F77B4" stroke-width="3.3"/>
<circle cx="538.4" cy="1132.7" r="8.2" fill="none" stroke="#1F77B4" stroke-width="3.3"/>
<circle cx="568.3" cy="1038.2" r="8.2" fill="none" stroke="#1F77B4" stroke-width="3.3"/>
<line x1="469" y1="1155.5" x2="469" y2="1173.3" stroke="#000000" stroke-width="3.3"/>
<line x1="460.5" y1="1155.5" x2="477.5" y2="1155.5" stroke="#000000" stroke-width="3.3"/>
<line x1="460.5" y1="1173.3" x2="477.5" y2="1173.3" stroke="#000000" stroke-width="3.3"/>
<line x1="508.4" y1="1137.4" x2="508.4" y2="1163.3" stroke="#000000" stroke-width="3.3"/>
<line x1="499.9" y1="1137.4" x2="516.9" y2="1137.4" stroke="#000000" stroke-width="3.3"/>
<line x1="499.9" y1="1163.3" x2="516.9" y2="1163.3" stroke="#000000" stroke-width="3.3"/>
<line x1="538.4" y1="993.2" x2="538.4" y2="1112.5" stroke="#000000" stroke-width="3.3"/>
<line x1="529.9" y1="993.2" x2="546.9" y2="993.2" stroke="#000000" stroke-width="3.3"/>
<line x1="529.9" y1="1112.5" x2="546.9" y2="1112.5" stroke="#000000" stroke-width="3.3"/>
<rect x="260.85" y="1162.25" width="17.5" height="17.5" fill="#000000"/>
<rect x="360.35" y="1162.95" width="17.5" height="17.5" fill="#000000"/>
<rect x="430.25" y="1159.25" width="17.5" height="17.5" fill="#000000"/>
<rect x="460.25" y="1155.65" width="17.5" height="17.5" fill="#000000"/>
<rect x="499.65" y="1141.65" width="17.5" height="17.5" fill="#000000"/>
<rect x="529.65" y="1044.15" width="17.5" height="17.5" fill="#000000"/>
<line x1="168.5" y1="788.9" x2="670.3" y2="788.9" stroke="#000000" stroke-width="3"/>
<line x1="168.5" y1="1231.7" x2="670.3" y2="1231.7" stroke="#000000" stroke-width="3"/>
<line x1="170.2" y1="787.4" x2="170.2" y2="1233.2" stroke="#000000" stroke-width="3.4"/>
<line x1="668.6" y1="787.4" x2="668.6" y2="1233.2" stroke="#000000" stroke-width="3.4"/>
<line x1="161.4" y1="788.9" x2="170.2" y2="788.9" stroke="#000000" stroke-width="3.4"/>
<text x="109.54" y="799" font-size="27.9" transform="matrix(1 0 0 1.041 0 -32.76)">120</text>
<line x1="161.4" y1="899.6" x2="170.2" y2="899.6" stroke="#000000" stroke-width="3.4"/>
<text x="125.06" y="909.7" font-size="27.9" transform="matrix(1 0 0 1.041 0 -37.3)">90</text>
<line x1="161.4" y1="1010.3" x2="170.2" y2="1010.3" stroke="#000000" stroke-width="3.4"/>
<text x="125.06" y="1020.4" font-size="27.9" transform="matrix(1 0 0 1.041 0 -41.84)">60</text>
<line x1="161.4" y1="1121" x2="170.2" y2="1121" stroke="#000000" stroke-width="3.4"/>
<text x="125.06" y="1131.1" font-size="27.9" transform="matrix(1 0 0 1.041 0 -46.38)">30</text>
<line x1="161.4" y1="1231.7" x2="170.2" y2="1231.7" stroke="#000000" stroke-width="3.4"/>
<text x="140.57" y="1241.8" font-size="27.9" transform="matrix(1 0 0 1.041 0 -50.91)">0</text>
<line x1="170.2" y1="1231.7" x2="170.2" y2="1247" stroke="#000000" stroke-width="3.4"/>
<text x="127.53" y="1279.8" font-size="27.9" transform="matrix(1 0 0 1.041 0 -52.47)">0.0001</text>
<line x1="269.8" y1="1231.7" x2="269.8" y2="1247" stroke="#000000" stroke-width="3.4"/>
<text x="234.89" y="1279.8" font-size="27.9" transform="matrix(1 0 0 1.041 0 -52.47)">0.001</text>
<line x1="369.4" y1="1231.7" x2="369.4" y2="1247" stroke="#000000" stroke-width="3.4"/>
<text x="342.25" y="1279.8" font-size="27.9" transform="matrix(1 0 0 1.041 0 -52.47)">0.01</text>
<line x1="469" y1="1231.7" x2="469" y2="1247" stroke="#000000" stroke-width="3.4"/>
<text x="449.61" y="1279.8" font-size="27.9" transform="matrix(1 0 0 1.041 0 -52.47)">0.1</text>
<line x1="568.6" y1="1231.7" x2="568.6" y2="1247" stroke="#000000" stroke-width="3.4"/>
<text x="560.84" y="1279.8" font-size="27.9" transform="matrix(1 0 0 1.041 0 -52.47)">1</text>
<line x1="668.2" y1="1231.7" x2="668.2" y2="1247" stroke="#000000" stroke-width="3.4"/>
<text x="652.68" y="1279.8" font-size="27.9" transform="matrix(1 0 0 1.041 0 -52.47)">10</text>
<line x1="200.18" y1="1231.7" x2="200.18" y2="1240" stroke="#000000" stroke-width="3.4"/>
<line x1="217.72" y1="1231.7" x2="217.72" y2="1240" stroke="#000000" stroke-width="3.4"/>
<line x1="230.17" y1="1231.7" x2="230.17" y2="1240" stroke="#000000" stroke-width="3.4"/>
<line x1="239.82" y1="1231.7" x2="239.82" y2="1240" stroke="#000000" stroke-width="3.4"/>
<line x1="247.7" y1="1231.7" x2="247.7" y2="1240" stroke="#000000" stroke-width="3.4"/>
<line x1="254.37" y1="1231.7" x2="254.37" y2="1240" stroke="#000000" stroke-width="3.4"/>
<line x1="260.15" y1="1231.7" x2="260.15" y2="1240" stroke="#000000" stroke-width="3.4"/>
<line x1="265.24" y1="1231.7" x2="265.24" y2="1240" stroke="#000000" stroke-width="3.4"/>
<line x1="299.78" y1="1231.7" x2="299.78" y2="1240" stroke="#000000" stroke-width="3.4"/>
<line x1="317.32" y1="1231.7" x2="317.32" y2="1240" stroke="#000000" stroke-width="3.4"/>
<line x1="329.77" y1="1231.7" x2="329.77" y2="1240" stroke="#000000" stroke-width="3.4"/>
<line x1="339.42" y1="1231.7" x2="339.42" y2="1240" stroke="#000000" stroke-width="3.4"/>
<line x1="347.3" y1="1231.7" x2="347.3" y2="1240" stroke="#000000" stroke-width="3.4"/>
<line x1="353.97" y1="1231.7" x2="353.97" y2="1240" stroke="#000000" stroke-width="3.4"/>
<line x1="359.75" y1="1231.7" x2="359.75" y2="1240" stroke="#000000" stroke-width="3.4"/>
<line x1="364.84" y1="1231.7" x2="364.84" y2="1240" stroke="#000000" stroke-width="3.4"/>
<line x1="399.38" y1="1231.7" x2="399.38" y2="1240" stroke="#000000" stroke-width="3.4"/>
<line x1="416.92" y1="1231.7" x2="416.92" y2="1240" stroke="#000000" stroke-width="3.4"/>
<line x1="429.37" y1="1231.7" x2="429.37" y2="1240" stroke="#000000" stroke-width="3.4"/>
<line x1="439.02" y1="1231.7" x2="439.02" y2="1240" stroke="#000000" stroke-width="3.4"/>
<line x1="446.9" y1="1231.7" x2="446.9" y2="1240" stroke="#000000" stroke-width="3.4"/>
<line x1="453.57" y1="1231.7" x2="453.57" y2="1240" stroke="#000000" stroke-width="3.4"/>
<line x1="459.35" y1="1231.7" x2="459.35" y2="1240" stroke="#000000" stroke-width="3.4"/>
<line x1="464.44" y1="1231.7" x2="464.44" y2="1240" stroke="#000000" stroke-width="3.4"/>
<line x1="498.98" y1="1231.7" x2="498.98" y2="1240" stroke="#000000" stroke-width="3.4"/>
<line x1="516.52" y1="1231.7" x2="516.52" y2="1240" stroke="#000000" stroke-width="3.4"/>
<line x1="528.97" y1="1231.7" x2="528.97" y2="1240" stroke="#000000" stroke-width="3.4"/>
<line x1="538.62" y1="1231.7" x2="538.62" y2="1240" stroke="#000000" stroke-width="3.4"/>
<line x1="546.5" y1="1231.7" x2="546.5" y2="1240" stroke="#000000" stroke-width="3.4"/>
<line x1="553.17" y1="1231.7" x2="553.17" y2="1240" stroke="#000000" stroke-width="3.4"/>
<line x1="558.95" y1="1231.7" x2="558.95" y2="1240" stroke="#000000" stroke-width="3.4"/>
<line x1="564.04" y1="1231.7" x2="564.04" y2="1240" stroke="#000000" stroke-width="3.4"/>
<line x1="598.58" y1="1231.7" x2="598.58" y2="1240" stroke="#000000" stroke-width="3.4"/>
<line x1="616.12" y1="1231.7" x2="616.12" y2="1240" stroke="#000000" stroke-width="3.4"/>
<line x1="628.57" y1="1231.7" x2="628.57" y2="1240" stroke="#000000" stroke-width="3.4"/>
<line x1="638.22" y1="1231.7" x2="638.22" y2="1240" stroke="#000000" stroke-width="3.4"/>
<line x1="646.1" y1="1231.7" x2="646.1" y2="1240" stroke="#000000" stroke-width="3.4"/>
<line x1="652.77" y1="1231.7" x2="652.77" y2="1240" stroke="#000000" stroke-width="3.4"/>
<line x1="658.55" y1="1231.7" x2="658.55" y2="1240" stroke="#000000" stroke-width="3.4"/>
<line x1="663.64" y1="1231.7" x2="663.64" y2="1240" stroke="#000000" stroke-width="3.4"/>
<text font-size="27.9"><tspan x="318.78" y="1323.6" letter-spacing="-0.44">Compound </tspan><tspan x="459.47" y="1323.6" letter-spacing="-0.33">(mM)</tspan></text>
<text font-size="27.9" transform="translate(82.4 1074.2) rotate(-90)"><tspan x="0" y="0">T</tspan><tspan x="17.1" y="6.1" font-size="21">50</tspan><tspan x="39.90" y="0" letter-spacing="0.25"> (min)</tspan></text>
<line x1="186.5" y1="811.2" x2="246.7" y2="811.2" stroke="#FF0000" stroke-width="2.4"/>
<circle cx="216.6" cy="811.2" r="8.75" fill="#FF0000"/>
<text x="279.4" y="821.3" font-size="27.9" letter-spacing="-0.55">2-octynoHA</text>
<line x1="186.5" y1="861.9" x2="246.7" y2="861.9" stroke="#000000" stroke-width="3.3"/>
<rect x="207.85" y="853.15" width="17.5" height="17.5" fill="#000000"/>
<text x="280.28" y="871.8" font-size="27.9" letter-spacing="-2.09" transform="matrix(1 0 0 1.041 0 -35.74)">OHA</text>
<line x1="186.5" y1="912.5" x2="246.7" y2="912.5" stroke="#1F77B4" stroke-width="2.4"/>
<circle cx="216.6" cy="912.5" r="8.2" fill="#fff" stroke="#1F77B4" stroke-width="3.3"/>
<text x="280.75" y="922.8" font-size="27.9" letter-spacing="-2.68" transform="matrix(1 0 0 1.041 0 -37.83)">AHA</text>
</g>
<g id="panel-d">
<text x="700.71" y="764.2" font-size="38.8" font-weight="bold">d</text>
<line x1="836.8" y1="878.7" x2="936.8" y2="878.7" stroke="#FF0000" stroke-width="2.9"/>
<line x1="886.5" y1="859.7" x2="886.5" y2="897.3" stroke="#FF0000" stroke-width="2.9"/>
<line x1="861.3" y1="859.7" x2="911.7" y2="859.7" stroke="#FF0000" stroke-width="2.9"/>
<line x1="861.3" y1="897.3" x2="911.7" y2="897.3" stroke="#FF0000" stroke-width="2.9"/>
<circle cx="845.2" cy="893" r="8.75" fill="#FF0000"/>
<circle cx="886.5" cy="851.3" r="8.75" fill="#FF0000"/>
<circle cx="886.5" cy="881.2" r="8.75" fill="#FF0000"/>
<circle cx="927.9" cy="888.9" r="8.75" fill="#FF0000"/>
<line x1="986.1" y1="1210" x2="1085.9" y2="1210" stroke="#000000" stroke-width="2.9"/>
<line x1="1035.9" y1="1198" x2="1035.9" y2="1221.7" stroke="#000000" stroke-width="2.9"/>
<line x1="1010.7" y1="1198" x2="1061.1" y2="1198" stroke="#000000" stroke-width="2.9"/>
<line x1="1010.7" y1="1221.7" x2="1061.1" y2="1221.7" stroke="#000000" stroke-width="2.9"/>
<rect x="985.75" y="1191.25" width="17.5" height="17.5" fill="#000000"/>
<rect x="1027.15" y="1198.25" width="17.5" height="17.5" fill="#000000"/>
<rect x="1027.15" y="1218.05" width="17.5" height="17.5" fill="#000000"/>
<rect x="1068.45" y="1196.95" width="17.5" height="17.5" fill="#000000"/>
<line x1="1135.2" y1="1211.3" x2="1234.9" y2="1211.3" stroke="#1F77B4" stroke-width="2.9"/>
<line x1="1185" y1="1206.4" x2="1185" y2="1215.9" stroke="#1F77B4" stroke-width="2.9"/>
<line x1="1159.8" y1="1206.4" x2="1210.2" y2="1206.4" stroke="#1F77B4" stroke-width="2.9"/>
<line x1="1159.8" y1="1215.9" x2="1210.2" y2="1215.9" stroke="#1F77B4" stroke-width="2.9"/>
<circle cx="1143.6" cy="1214.6" r="8.2" fill="#fff" stroke="#1F77B4" stroke-width="3.3"/>
<circle cx="1185" cy="1205.7" r="8.2" fill="#fff" stroke="#1F77B4" stroke-width="3.3"/>
<circle cx="1226.3" cy="1212.8" r="8.2" fill="#fff" stroke="#1F77B4" stroke-width="3.3"/>
<line x1="785.8" y1="788.9" x2="1287.4" y2="788.9" stroke="#000000" stroke-width="3"/>
<line x1="785.8" y1="1231.7" x2="1287.4" y2="1231.7" stroke="#000000" stroke-width="3"/>
<line x1="787.5" y1="787.4" x2="787.5" y2="1233.2" stroke="#000000" stroke-width="3.4"/>
<line x1="1285.7" y1="787.4" x2="1285.7" y2="1233.2" stroke="#000000" stroke-width="3.4"/>
<line x1="778.6" y1="788.9" x2="787.5" y2="788.9" stroke="#000000" stroke-width="3.4"/>
<text x="742.86" y="799" font-size="27.9" transform="matrix(1 0 0 1.041 0 -32.76)">60</text>
<line x1="778.6" y1="936.5" x2="787.5" y2="936.5" stroke="#000000" stroke-width="3.4"/>
<text x="742.86" y="946.6" font-size="27.9" transform="matrix(1 0 0 1.041 0 -38.81)">40</text>
<line x1="778.6" y1="1084.1" x2="787.5" y2="1084.1" stroke="#000000" stroke-width="3.4"/>
<text x="742.86" y="1094.2" font-size="27.9" transform="matrix(1 0 0 1.041 0 -44.86)">20</text>
<line x1="778.6" y1="1231.7" x2="787.5" y2="1231.7" stroke="#000000" stroke-width="3.4"/>
<text x="758.37" y="1241.8" font-size="27.9" transform="matrix(1 0 0 1.041 0 -50.91)">0</text>
<line x1="886.6" y1="1231.7" x2="886.6" y2="1240.1" stroke="#000000" stroke-width="3.4"/>
<line x1="1035.9" y1="1231.7" x2="1035.9" y2="1240.1" stroke="#000000" stroke-width="3.4"/>
<line x1="1185" y1="1231.7" x2="1185" y2="1240.1" stroke="#000000" stroke-width="3.4"/>
<text x="815.3" y="1270.7" font-size="27.9" letter-spacing="-0.35">2-octynoHA</text>
<text x="1006.18" y="1270.7" font-size="27.9" letter-spacing="-1.04" transform="matrix(1 0 0 1.041 0 -52.1)">OHA</text>
<text x="1157.85" y="1270.7" font-size="27.9" letter-spacing="-1.18" transform="matrix(1 0 0 1.041 0 -52.1)">AHA</text>
<text font-size="27.9" transform="translate(714.8 1086.7) rotate(-90)"><tspan x="-0.63" y="0">Δ </tspan><tspan x="26.7" y="0">T</tspan><tspan x="43.8" y="6.1" font-size="21">50</tspan><tspan x="64.60" y="0" letter-spacing="0.25"> (min)</tspan></text>
</g>
<g id="panel-e">
<text x="1313.68" y="764.2" font-size="38.8" font-weight="bold">e</text>
<path d="M1435 839 L1453 851.7 L1506.4 924.8 L1577.8 960.3 L1649.2 1026.9 L1720.2 1080.7 L1862.5 1133" fill="none" stroke="#FF8080" stroke-width="3.4" stroke-linejoin="round" stroke-dasharray="6 8.5"/>
<line x1="1435" y1="826.9" x2="1435" y2="851.3" stroke="#FF8080" stroke-width="3.4"/>
<line x1="1426.25" y1="826.9" x2="1443.75" y2="826.9" stroke="#FF8080" stroke-width="3.4"/>
<line x1="1426.25" y1="851.3" x2="1443.75" y2="851.3" stroke="#FF8080" stroke-width="3.4"/>
<line x1="1453" y1="841.5" x2="1453" y2="862.2" stroke="#FF8080" stroke-width="3.4"/>
<line x1="1444.25" y1="841.5" x2="1461.75" y2="841.5" stroke="#FF8080" stroke-width="3.4"/>
<line x1="1444.25" y1="862.2" x2="1461.75" y2="862.2" stroke="#FF8080" stroke-width="3.4"/>
<line x1="1506.4" y1="915.2" x2="1506.4" y2="934.3" stroke="#FF8080" stroke-width="3.4"/>
<line x1="1497.65" y1="915.2" x2="1515.15" y2="915.2" stroke="#FF8080" stroke-width="3.4"/>
<line x1="1497.65" y1="934.3" x2="1515.15" y2="934.3" stroke="#FF8080" stroke-width="3.4"/>
<line x1="1720.2" y1="1068.4" x2="1720.2" y2="1092.7" stroke="#FF8080" stroke-width="3.4"/>
<line x1="1711.45" y1="1068.4" x2="1728.95" y2="1068.4" stroke="#FF8080" stroke-width="3.4"/>
<line x1="1711.45" y1="1092.7" x2="1728.95" y2="1092.7" stroke="#FF8080" stroke-width="3.4"/>
<circle cx="1435" cy="839" r="8.75" fill="#FF8080"/>
<circle cx="1453" cy="851.7" r="8.75" fill="#FF8080"/>
<circle cx="1506.4" cy="924.8" r="8.75" fill="#FF8080"/>
<circle cx="1577.8" cy="960.3" r="8.75" fill="#FF8080"/>
<circle cx="1649.2" cy="1026.9" r="8.75" fill="#FF8080"/>
<circle cx="1720.2" cy="1080.7" r="8.75" fill="#FF8080"/>
<circle cx="1862.5" cy="1133" r="8.75" fill="#FF8080"/>
<path d="M1435 867.3 L1453 905.4 L1506.4 1065.9 L1577.8 1109.5 L1649.2 1175.3 L1720.2 1204.4 L1862.5 1222.3" fill="none" stroke="#FF0000" stroke-width="3.4" stroke-linejoin="round" stroke-dasharray="6 8.5"/>
<line x1="1435" y1="842.2" x2="1435" y2="892.5" stroke="#FF0000" stroke-width="3.4"/>
<line x1="1426.25" y1="842.2" x2="1443.75" y2="842.2" stroke="#FF0000" stroke-width="3.4"/>
<line x1="1426.25" y1="892.5" x2="1443.75" y2="892.5" stroke="#FF0000" stroke-width="3.4"/>
<line x1="1453" y1="885.2" x2="1453" y2="925.3" stroke="#FF0000" stroke-width="3.4"/>
<line x1="1444.25" y1="885.2" x2="1461.75" y2="885.2" stroke="#FF0000" stroke-width="3.4"/>
<line x1="1444.25" y1="925.3" x2="1461.75" y2="925.3" stroke="#FF0000" stroke-width="3.4"/>
<line x1="1506.4" y1="1054.4" x2="1506.4" y2="1076.3" stroke="#FF0000" stroke-width="3.4"/>
<line x1="1497.65" y1="1054.4" x2="1515.15" y2="1054.4" stroke="#FF0000" stroke-width="3.4"/>
<line x1="1497.65" y1="1076.3" x2="1515.15" y2="1076.3" stroke="#FF0000" stroke-width="3.4"/>
<circle cx="1435" cy="867.3" r="8.75" fill="#FF0000"/>
<circle cx="1453" cy="905.4" r="8.75" fill="#FF0000"/>
<circle cx="1506.4" cy="1065.9" r="8.75" fill="#FF0000"/>
<circle cx="1577.8" cy="1109.5" r="8.75" fill="#FF0000"/>
<circle cx="1649.2" cy="1175.3" r="8.75" fill="#FF0000"/>
<circle cx="1720.2" cy="1204.4" r="8.75" fill="#FF0000"/>
<circle cx="1862.5" cy="1222.3" r="8.75" fill="#FF0000"/>
<line x1="1398.5" y1="788.9" x2="1899.9" y2="788.9" stroke="#000000" stroke-width="3"/>
<line x1="1398.5" y1="1231.7" x2="1899.9" y2="1231.7" stroke="#000000" stroke-width="3"/>
<line x1="1400.2" y1="787.4" x2="1400.2" y2="1233.2" stroke="#000000" stroke-width="3.4"/>
<line x1="1898.2" y1="787.4" x2="1898.2" y2="1233.2" stroke="#000000" stroke-width="3.4"/>
<line x1="1391.1" y1="788.9" x2="1400.2" y2="788.9" stroke="#000000" stroke-width="3.4"/>
<text x="1347.74" y="799" font-size="27.9" transform="matrix(1 0 0 1.041 0 -32.76)">0.6</text>
<line x1="1391.1" y1="936.5" x2="1400.2" y2="936.5" stroke="#000000" stroke-width="3.4"/>
<text x="1347.33" y="946.6" font-size="27.9" transform="matrix(1 0 0 1.041 0 -38.81)">0.4</text>
<line x1="1391.1" y1="1084.1" x2="1400.2" y2="1084.1" stroke="#000000" stroke-width="3.4"/>
<text x="1347.92" y="1094.2" font-size="27.9" transform="matrix(1 0 0 1.041 0 -44.86)">0.2</text>
<line x1="1391.1" y1="1231.7" x2="1400.2" y2="1231.7" stroke="#000000" stroke-width="3.4"/>
<text x="1347.61" y="1241.8" font-size="27.9" transform="matrix(1 0 0 1.041 0 -50.91)">0.0</text>
<line x1="1434.9" y1="1231.7" x2="1434.9" y2="1240.1" stroke="#000000" stroke-width="3.4"/>
<text x="1427.14" y="1273.2" font-size="27.9" transform="matrix(1 0 0 1.041 0 -52.2)">0</text>
<line x1="1506.16" y1="1231.7" x2="1506.16" y2="1240.1" stroke="#000000" stroke-width="3.4"/>
<text x="1498.4" y="1273.2" font-size="27.9" transform="matrix(1 0 0 1.041 0 -52.2)">2</text>
<line x1="1577.42" y1="1231.7" x2="1577.42" y2="1240.1" stroke="#000000" stroke-width="3.4"/>
<text x="1569.66" y="1273.2" font-size="27.9" transform="matrix(1 0 0 1.041 0 -52.2)">4</text>
<line x1="1648.68" y1="1231.7" x2="1648.68" y2="1240.1" stroke="#000000" stroke-width="3.4"/>
<text x="1640.92" y="1273.2" font-size="27.9" transform="matrix(1 0 0 1.041 0 -52.2)">6</text>
<line x1="1719.94" y1="1231.7" x2="1719.94" y2="1240.1" stroke="#000000" stroke-width="3.4"/>
<text x="1712.18" y="1273.2" font-size="27.9" transform="matrix(1 0 0 1.041 0 -52.2)">8</text>
<line x1="1791.2" y1="1231.7" x2="1791.2" y2="1240.1" stroke="#000000" stroke-width="3.4"/>
<text x="1775.68" y="1273.2" font-size="27.9" transform="matrix(1 0 0 1.041 0 -52.2)">10</text>
<line x1="1862.46" y1="1231.7" x2="1862.46" y2="1240.1" stroke="#000000" stroke-width="3.4"/>
<text x="1846.94" y="1273.2" font-size="27.9" transform="matrix(1 0 0 1.041 0 -52.2)">12</text>
<text x="1599.27" y="1317.9" font-size="27.9" letter-spacing="-0.44">Time (h)</text>
<text x="1323" y="1125.2" font-size="27.9" letter-spacing="-0.42" transform="rotate(-90 1323 1125.2)">2-octynoHA (mM)</text>
<line x1="1708.4" y1="808.4" x2="1768.8" y2="808.4" stroke="#FF0000" stroke-width="3.4" stroke-dasharray="6 8.5"/>
<circle cx="1738.6" cy="808.4" r="8.75" fill="#FF0000"/>
<text x="1802" y="817.9" font-size="27.9" letter-spacing="-0.22">pH 6.8</text>
<line x1="1708.4" y1="858.9" x2="1768.8" y2="858.9" stroke="#FF8080" stroke-width="3.4" stroke-dasharray="6 8.5"/>
<circle cx="1738.6" cy="858.9" r="8.75" fill="#FF8080"/>
<text x="1802" y="868.6" font-size="27.9" letter-spacing="-0.22">pH 6.3</text>
</g>
</svg>
</body></html>
